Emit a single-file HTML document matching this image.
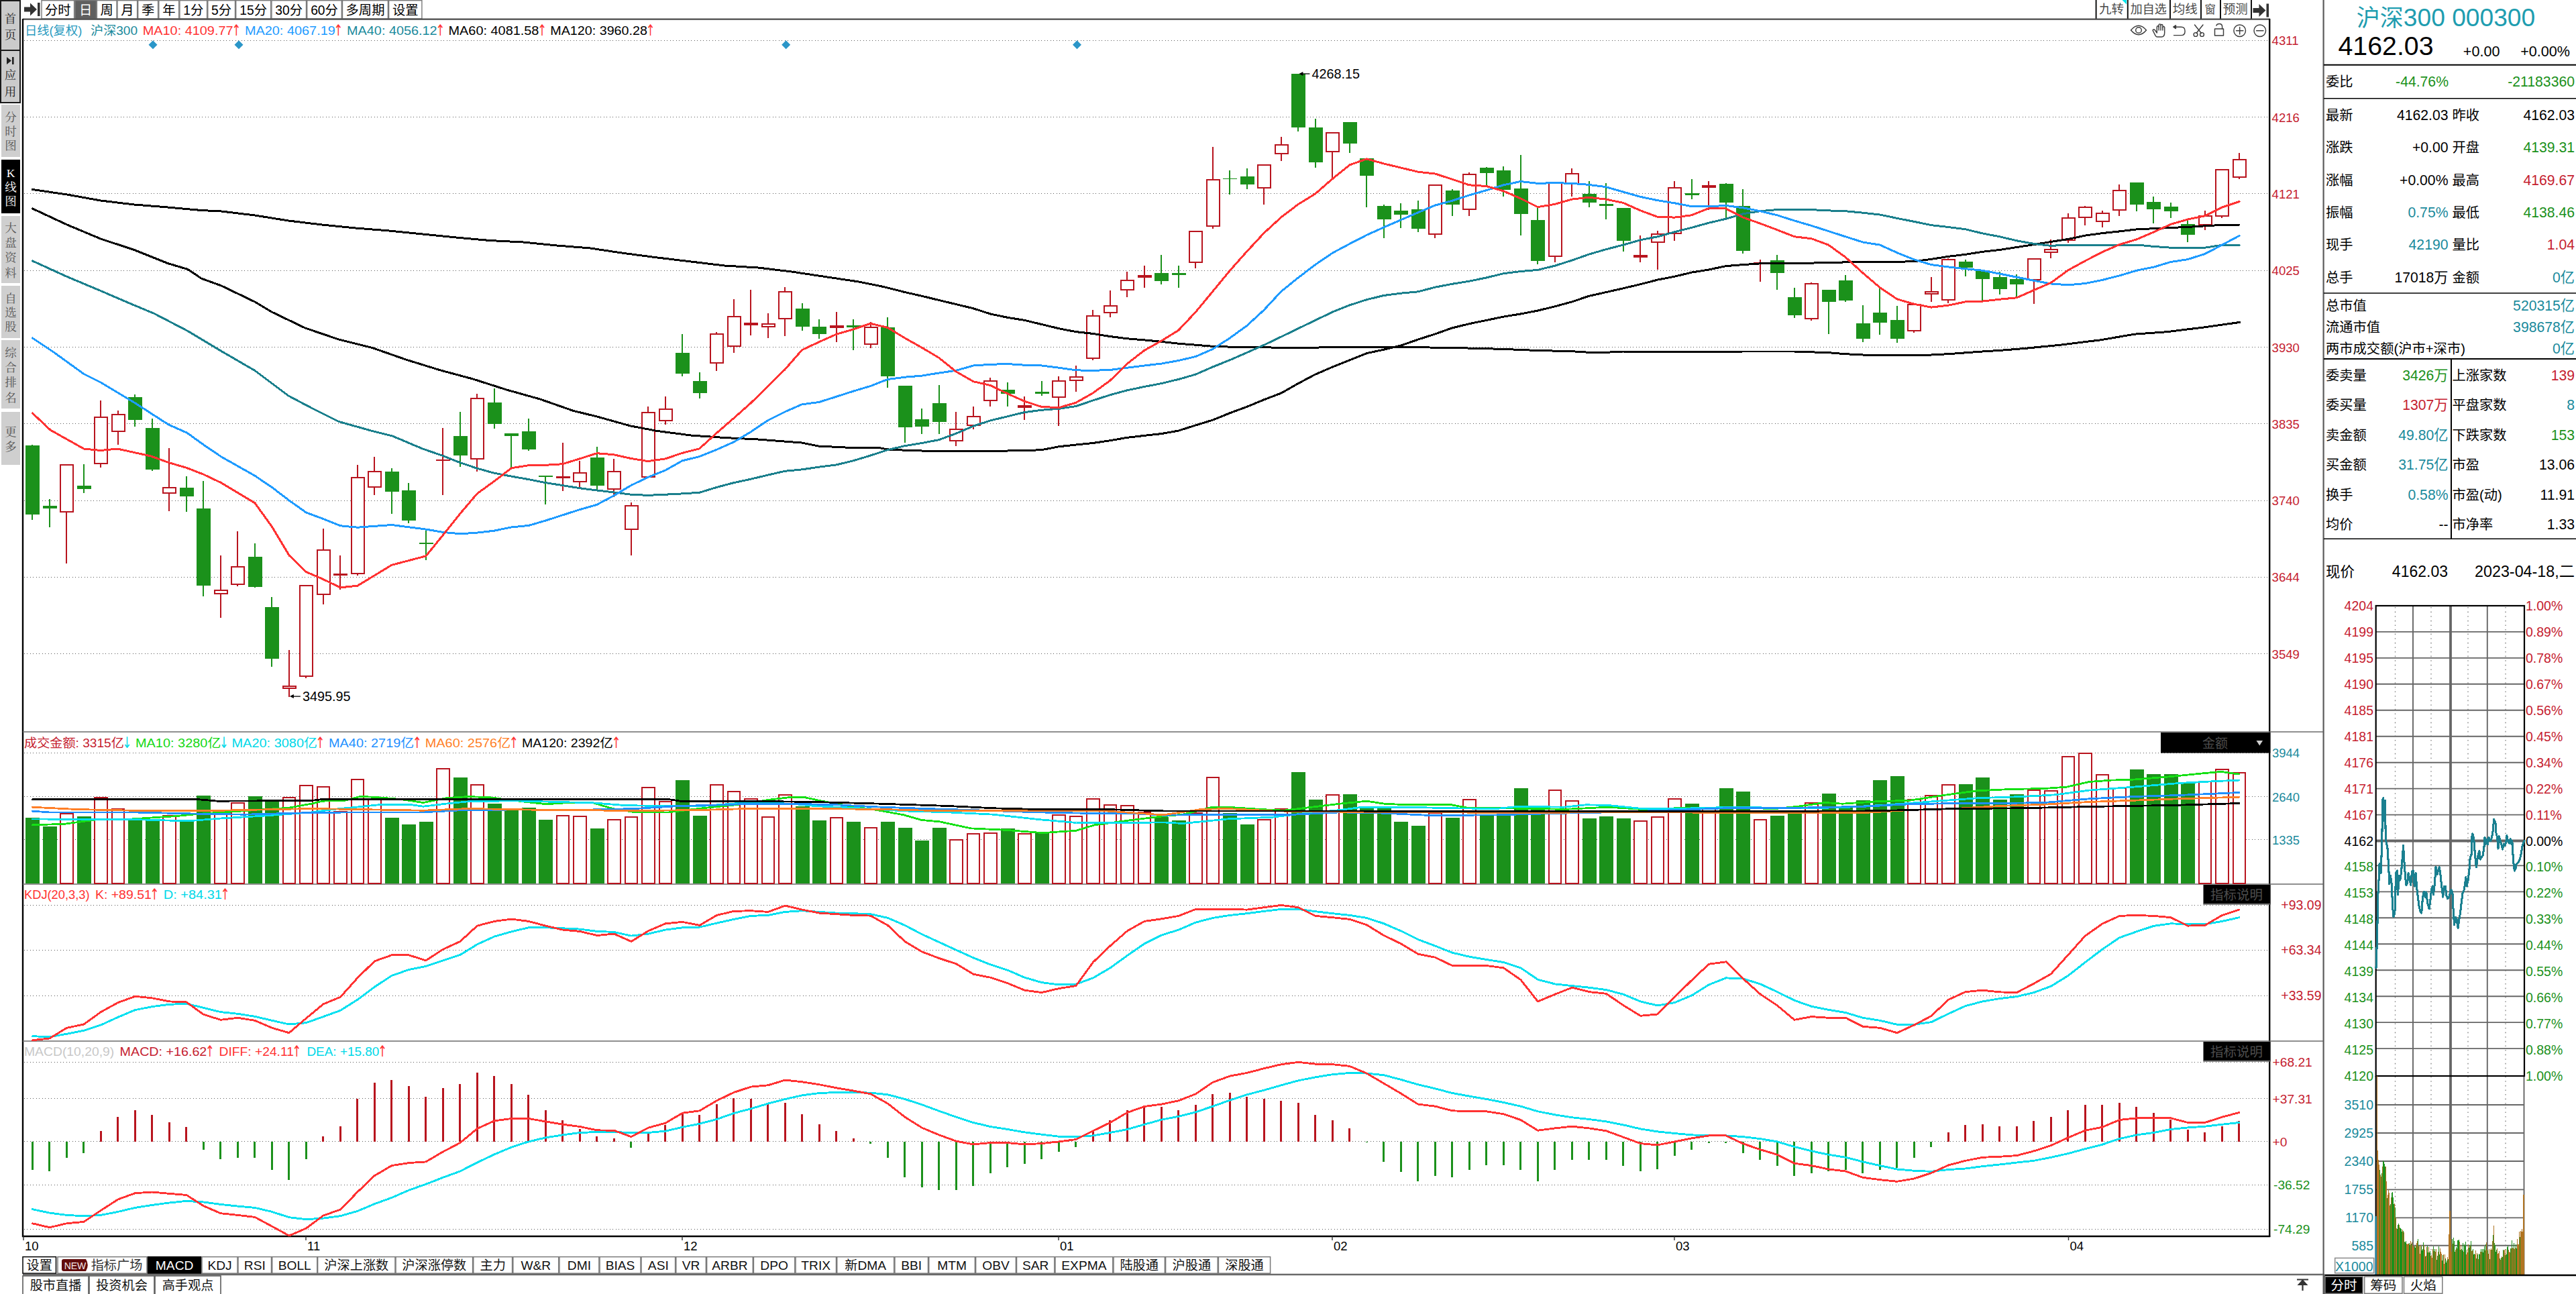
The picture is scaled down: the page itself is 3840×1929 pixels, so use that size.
<!DOCTYPE html><html><head><meta charset="utf-8"><title>沪深300</title><style>html,body{margin:0;padding:0;background:#fff}svg{display:block}text{font-family:"Liberation Sans","Noto Sans CJK SC",sans-serif;white-space:pre}</style></head><body>
<svg width="3840" height="1929" viewBox="0 0 3840 1929">
<rect width="3840" height="1929" fill="#fff"/>
<rect x="1" y="1" width="29" height="74" fill="#cbcbcb" stroke="#1a1a1a" stroke-width="2"/>
<text x="15.5" y="34.0" font-size="17.5" fill="#222" text-anchor="middle" style='font-family:"Liberation Serif","Noto Serif CJK SC",serif'>首</text>
<text x="15.5" y="57.6" font-size="17.5" fill="#222" text-anchor="middle" style='font-family:"Liberation Serif","Noto Serif CJK SC",serif'>页</text>
<rect x="1" y="75" width="29" height="78" fill="#cbcbcb" stroke="#1a1a1a" stroke-width="2"/>
<path d="M10,85 L17,90.5 L10,96 Z M18,85 h2.6 v11 h-2.6 Z" fill="#222"/>
<text x="15.5" y="117.5" font-size="17.5" fill="#222" text-anchor="middle" style='font-family:"Liberation Serif","Noto Serif CJK SC",serif'>应</text>
<text x="15.5" y="142.5" font-size="17.5" fill="#222" text-anchor="middle" style='font-family:"Liberation Serif","Noto Serif CJK SC",serif'>用</text>
<rect x="2" y="156" width="28" height="78" fill="#cfcfcf"/>
<text x="16.0" y="181.2" font-size="17.5" fill="#555" text-anchor="middle" style='font-family:"Liberation Serif","Noto Serif CJK SC",serif'>分</text>
<text x="16.0" y="202.2" font-size="17.5" fill="#555" text-anchor="middle" style='font-family:"Liberation Serif","Noto Serif CJK SC",serif'>时</text>
<text x="16.0" y="223.2" font-size="17.5" fill="#555" text-anchor="middle" style='font-family:"Liberation Serif","Noto Serif CJK SC",serif'>图</text>
<rect x="2" y="238" width="28" height="80" fill="#000"/>
<text x="16.0" y="264.2" font-size="17.5" fill="#fff" text-anchor="middle" style='font-family:"Liberation Serif","Noto Serif CJK SC",serif'>K</text>
<text x="16.0" y="285.2" font-size="17.5" fill="#fff" text-anchor="middle" style='font-family:"Liberation Serif","Noto Serif CJK SC",serif'>线</text>
<text x="16.0" y="306.2" font-size="17.5" fill="#fff" text-anchor="middle" style='font-family:"Liberation Serif","Noto Serif CJK SC",serif'>图</text>
<rect x="2" y="322" width="28" height="100" fill="#cfcfcf"/>
<text x="16.0" y="345.8" font-size="17.5" fill="#555" text-anchor="middle" style='font-family:"Liberation Serif","Noto Serif CJK SC",serif'>大</text>
<text x="16.0" y="368.1" font-size="17.5" fill="#555" text-anchor="middle" style='font-family:"Liberation Serif","Noto Serif CJK SC",serif'>盘</text>
<text x="16.0" y="390.4" font-size="17.5" fill="#555" text-anchor="middle" style='font-family:"Liberation Serif","Noto Serif CJK SC",serif'>资</text>
<text x="16.0" y="412.6" font-size="17.5" fill="#555" text-anchor="middle" style='font-family:"Liberation Serif","Noto Serif CJK SC",serif'>料</text>
<rect x="2" y="426" width="28" height="78" fill="#cfcfcf"/>
<text x="16.0" y="451.2" font-size="17.5" fill="#555" text-anchor="middle" style='font-family:"Liberation Serif","Noto Serif CJK SC",serif'>自</text>
<text x="16.0" y="472.2" font-size="17.5" fill="#555" text-anchor="middle" style='font-family:"Liberation Serif","Noto Serif CJK SC",serif'>选</text>
<text x="16.0" y="493.2" font-size="17.5" fill="#555" text-anchor="middle" style='font-family:"Liberation Serif","Noto Serif CJK SC",serif'>股</text>
<rect x="2" y="507" width="28" height="102" fill="#cfcfcf"/>
<text x="16.0" y="531.8" font-size="17.5" fill="#555" text-anchor="middle" style='font-family:"Liberation Serif","Noto Serif CJK SC",serif'>综</text>
<text x="16.0" y="554.0" font-size="17.5" fill="#555" text-anchor="middle" style='font-family:"Liberation Serif","Noto Serif CJK SC",serif'>合</text>
<text x="16.0" y="576.4" font-size="17.5" fill="#555" text-anchor="middle" style='font-family:"Liberation Serif","Noto Serif CJK SC",serif'>排</text>
<text x="16.0" y="598.6" font-size="17.5" fill="#555" text-anchor="middle" style='font-family:"Liberation Serif","Noto Serif CJK SC",serif'>名</text>
<rect x="2" y="614" width="28" height="79" fill="#cfcfcf"/>
<text x="16.0" y="650.0" font-size="17.5" fill="#555" text-anchor="middle" style='font-family:"Liberation Serif","Noto Serif CJK SC",serif'>更</text>
<text x="16.0" y="671.5" font-size="17.5" fill="#555" text-anchor="middle" style='font-family:"Liberation Serif","Noto Serif CJK SC",serif'>多</text>
<path d="M36,10.5 h9 v-6 l10,9.5 l-10,9.5 v-6 h-9 Z M56,4 h3.6 v20 h-3.6 Z" fill="#333"/>
<rect x="62.0" y="0.7" width="48.6" height="27.3" fill="#fff" stroke="#7a7a7a" stroke-width="1.4"/>
<text x="86.3" y="21.7" font-size="19.3" fill="#000" text-anchor="middle">分时</text>
<rect x="111.8" y="0.7" width="31.8" height="27.3" fill="#5f5f5f" stroke="#7a7a7a" stroke-width="1.4"/>
<text x="127.7" y="21.7" font-size="19.3" fill="#fff" text-anchor="middle">日</text>
<rect x="144.4" y="0.7" width="29.6" height="27.3" fill="#fff" stroke="#7a7a7a" stroke-width="1.4"/>
<text x="159.2" y="21.7" font-size="19.3" fill="#000" text-anchor="middle">周</text>
<rect x="175.0" y="0.7" width="29.6" height="27.3" fill="#fff" stroke="#7a7a7a" stroke-width="1.4"/>
<text x="189.8" y="21.7" font-size="19.3" fill="#000" text-anchor="middle">月</text>
<rect x="205.7" y="0.7" width="29.9" height="27.3" fill="#fff" stroke="#7a7a7a" stroke-width="1.4"/>
<text x="220.6" y="21.7" font-size="19.3" fill="#000" text-anchor="middle">季</text>
<rect x="236.8" y="0.7" width="29.9" height="27.3" fill="#fff" stroke="#7a7a7a" stroke-width="1.4"/>
<text x="251.8" y="21.7" font-size="19.3" fill="#000" text-anchor="middle">年</text>
<rect x="267.9" y="0.7" width="40.7" height="27.3" fill="#fff" stroke="#7a7a7a" stroke-width="1.4"/>
<text x="288.2" y="21.7" font-size="19.3" fill="#000" text-anchor="middle">1分</text>
<rect x="309.8" y="0.7" width="40.7" height="27.3" fill="#fff" stroke="#7a7a7a" stroke-width="1.4"/>
<text x="330.1" y="21.7" font-size="19.3" fill="#000" text-anchor="middle">5分</text>
<rect x="351.7" y="0.7" width="52.0" height="27.3" fill="#fff" stroke="#7a7a7a" stroke-width="1.4"/>
<text x="377.7" y="21.7" font-size="19.3" fill="#000" text-anchor="middle">15分</text>
<rect x="404.9" y="0.7" width="51.6" height="27.3" fill="#fff" stroke="#7a7a7a" stroke-width="1.4"/>
<text x="430.7" y="21.7" font-size="19.3" fill="#000" text-anchor="middle">30分</text>
<rect x="457.7" y="0.7" width="51.6" height="27.3" fill="#fff" stroke="#7a7a7a" stroke-width="1.4"/>
<text x="483.5" y="21.7" font-size="19.3" fill="#000" text-anchor="middle">60分</text>
<rect x="510.5" y="0.7" width="67.9" height="27.3" fill="#fff" stroke="#7a7a7a" stroke-width="1.4"/>
<text x="544.5" y="21.7" font-size="19.3" fill="#000" text-anchor="middle">多周期</text>
<rect x="579.6" y="0.7" width="49.3" height="27.3" fill="#fff" stroke="#7a7a7a" stroke-width="1.4"/>
<text x="604.2" y="21.7" font-size="19.3" fill="#000" text-anchor="middle">设置</text>
<line x1="3124.6" y1="0" x2="3124.6" y2="28" stroke="#111" stroke-width="2"/>
<text x="3147.5" y="20.3" font-size="18.5" fill="#4a4a4a" text-anchor="middle">九转</text>
<line x1="3171.8" y1="0" x2="3171.8" y2="28" stroke="#111" stroke-width="2"/>
<text x="3202.7" y="20.3" font-size="18" fill="#4a4a4a" text-anchor="middle">加自选</text>
<line x1="3235.0" y1="0" x2="3235.0" y2="28" stroke="#111" stroke-width="2"/>
<text x="3257.3" y="20.3" font-size="18.5" fill="#4a4a4a" text-anchor="middle">均线</text>
<line x1="3281.0" y1="0" x2="3281.0" y2="28" stroke="#111" stroke-width="2"/>
<text x="3294.8" y="20.3" font-size="16.5" fill="#4a4a4a" text-anchor="middle">窗</text>
<line x1="3310.0" y1="0" x2="3310.0" y2="28" stroke="#111" stroke-width="2"/>
<text x="3332.3" y="20.3" font-size="18.5" fill="#4a4a4a" text-anchor="middle">预测</text>
<line x1="3356" y1="0" x2="3356" y2="28" stroke="#111" stroke-width="2"/>
<path d="M3163.5,0 L3170,0 L3170,6.5 Z" fill="#00e5ee"/>
<path d="M3358.5,12.0 h9 v-6 l10,9.5 l-10,9.5 v-6 h-9 Z M3378.5,5.5 h3.6 v20 h-3.6 Z" fill="#333"/>
<line x1="34" y1="28.6" x2="3384" y2="28.6" stroke="#4a4a4a" stroke-width="2.2"/>
<line x1="34" y1="28" x2="34" y2="1844" stroke="#000" stroke-width="2.4"/>
<line x1="3383.2" y1="28" x2="3383.2" y2="1844" stroke="#000" stroke-width="2.4"/>
<line x1="3463.6" y1="0" x2="3463.6" y2="1929" stroke="#5a5a5a" stroke-width="2.2"/>
<line x1="34" y1="1091" x2="3463" y2="1091" stroke="#6a6a6a" stroke-width="1.6"/>
<line x1="34" y1="1318" x2="3463" y2="1318" stroke="#6a6a6a" stroke-width="1.6"/>
<line x1="34" y1="1552" x2="3463" y2="1552" stroke="#6a6a6a" stroke-width="1.6"/>
<line x1="33" y1="1843" x2="3384.2" y2="1843" stroke="#000" stroke-width="2.6"/>
<line x1="36" y1="60.5" x2="3382" y2="60.5" stroke="#5a5a5a" stroke-width="1" stroke-dasharray="1 3 1 4"/>
<text x="3386.6" y="67.3" font-size="18.6" fill="#c5212f">4311</text>
<line x1="36" y1="174.5" x2="3382" y2="174.5" stroke="#5a5a5a" stroke-width="1" stroke-dasharray="1 3 1 4"/>
<text x="3386.6" y="181.6" font-size="18.6" fill="#c5212f">4216</text>
<line x1="36" y1="288.5" x2="3382" y2="288.5" stroke="#5a5a5a" stroke-width="1" stroke-dasharray="1 3 1 4"/>
<text x="3386.6" y="295.9" font-size="18.6" fill="#c5212f">4121</text>
<line x1="36" y1="403.5" x2="3382" y2="403.5" stroke="#5a5a5a" stroke-width="1" stroke-dasharray="1 3 1 4"/>
<text x="3386.6" y="410.2" font-size="18.6" fill="#c5212f">4025</text>
<line x1="36" y1="517.5" x2="3382" y2="517.5" stroke="#5a5a5a" stroke-width="1" stroke-dasharray="1 3 1 4"/>
<text x="3386.6" y="524.5" font-size="18.6" fill="#c5212f">3930</text>
<line x1="36" y1="631.5" x2="3382" y2="631.5" stroke="#5a5a5a" stroke-width="1" stroke-dasharray="1 3 1 4"/>
<text x="3386.6" y="638.8" font-size="18.6" fill="#c5212f">3835</text>
<line x1="36" y1="746.5" x2="3382" y2="746.5" stroke="#5a5a5a" stroke-width="1" stroke-dasharray="1 3 1 4"/>
<text x="3386.6" y="753.1" font-size="18.6" fill="#c5212f">3740</text>
<line x1="36" y1="860.5" x2="3382" y2="860.5" stroke="#5a5a5a" stroke-width="1" stroke-dasharray="1 3 1 4"/>
<text x="3386.6" y="867.4" font-size="18.6" fill="#c5212f">3644</text>
<line x1="36" y1="974.5" x2="3382" y2="974.5" stroke="#5a5a5a" stroke-width="1" stroke-dasharray="1 3 1 4"/>
<text x="3386.6" y="981.7" font-size="18.6" fill="#c5212f">3549</text>
<text x="36.9" y="52" font-size="18.3" fill="#2b9bc0" textLength="85.4" lengthAdjust="spacingAndGlyphs">日线(复权)</text>
<text x="135.1" y="52" font-size="18.3" fill="#1a8a9c" textLength="69.9" lengthAdjust="spacingAndGlyphs">沪深300</text>
<text x="212.7" y="52" font-size="18.3" fill="#ff3232" textLength="134.9" lengthAdjust="spacingAndGlyphs">MA10: 4109.77</text>
<text x="352.1" y="53.5" font-size="23" fill="#ff3232" text-anchor="middle" style='font-family:"DejaVu Sans","Liberation Sans",sans-serif' transform="translate(352.1 0) scale(0.72 1) translate(-352.1 0)">↑</text>
<text x="364.9" y="52" font-size="18.3" fill="#1e9bff" textLength="134.9" lengthAdjust="spacingAndGlyphs">MA20: 4067.19</text>
<text x="504.2" y="53.5" font-size="23" fill="#ff3232" text-anchor="middle" style='font-family:"DejaVu Sans","Liberation Sans",sans-serif' transform="translate(504.2 0) scale(0.72 1) translate(-504.2 0)">↑</text>
<text x="517.1" y="52" font-size="18.3" fill="#1a8a9c" textLength="134.5" lengthAdjust="spacingAndGlyphs">MA40: 4056.12</text>
<text x="656.1" y="53.5" font-size="23" fill="#ff3232" text-anchor="middle" style='font-family:"DejaVu Sans","Liberation Sans",sans-serif' transform="translate(656.1 0) scale(0.72 1) translate(-656.1 0)">↑</text>
<text x="668.5" y="52" font-size="18.3" fill="#000" textLength="134.9" lengthAdjust="spacingAndGlyphs">MA60: 4081.58</text>
<text x="807.9" y="53.5" font-size="23" fill="#ff3232" text-anchor="middle" style='font-family:"DejaVu Sans","Liberation Sans",sans-serif' transform="translate(807.9 0) scale(0.72 1) translate(-807.9 0)">↑</text>
<text x="820.3" y="52" font-size="18.3" fill="#000" textLength="144.6" lengthAdjust="spacingAndGlyphs">MA120: 3960.28</text>
<text x="969.4" y="53.5" font-size="23" fill="#ff3232" text-anchor="middle" style='font-family:"DejaVu Sans","Liberation Sans",sans-serif' transform="translate(969.4 0) scale(0.72 1) translate(-969.4 0)">↑</text>
<path d="M221.5,66.8 l6.5,-6.5 l6.5,6.5 l-6.5,6.5 Z" fill="#2b96c8"/>
<path d="M349.5,66.8 l6.5,-6.5 l6.5,6.5 l-6.5,6.5 Z" fill="#2b96c8"/>
<path d="M1165.2,66.8 l6.5,-6.5 l6.5,6.5 l-6.5,6.5 Z" fill="#2b96c8"/>
<path d="M1599.0,66.8 l6.5,-6.5 l6.5,6.5 l-6.5,6.5 Z" fill="#2b96c8"/>
<g fill="none" stroke="#3c3c3c" stroke-width="1.45" stroke-linecap="round" stroke-linejoin="round">
<path d="M3176.5,45 Q3188,31.5 3199.5,45 Q3188,58.5 3176.5,45 Z"/><circle cx="3188" cy="45" r="4.3"/>
<path d="M3215.3,49 V40.2 a1.4,1.4 0 0 1 2.8,0 V37.3 a1.45,1.45 0 0 1 2.9,0 V37.9 a1.45,1.45 0 0 1 2.9,0 V41 a1.4,1.4 0 0 1 2.8,0 V48.7 q0,6.2 -4.5,6.2 H3215.8 q-1.6,0 -2.6,-1.6 L3209.4,46 q-0.8,-1.6 0.9,-2 q1.2,-0.2 2,0.8 Z"/>
<path d="M3218.1,40.2 V45 M3221,37.9 V45 M3223.9,41 V45"/>
<path d="M3242,40.2 h9.5 q5.6,0 5.6,6.2 q0,6.2 -5.6,6.2 h-11"/><path d="M3243.4,37.8 l-3.6,2.4 l3.6,2.4 Z" fill="#3c3c3c"/>
<path d="M3271.5,37 L3281.5,49.5 M3284,37 L3274,49.5"/><circle cx="3273" cy="51.5" r="2.9"/><circle cx="3282.5" cy="51.5" r="2.9"/>
<rect x="3301.5" y="43" width="13" height="10"/><path d="M3312.6,43 v-3.2 q0,-4.3 -4.3,-4.3 q-3.6,0 -4.4,2.6"/>
<circle cx="3338.7" cy="45.7" r="8.8"/><path d="M3333.5,45.7 h10.4 M3338.7,40.5 v10.4"/>
<circle cx="3368.8" cy="45.7" r="8.8"/><path d="M3363.6,45.7 h10.4"/>
</g>
<g shape-rendering="crispEdges">
<line x1="48.4" y1="662.9" x2="48.4" y2="774.7" stroke="#1b911b" stroke-width="2"/>
<rect x="38.0" y="664.1" width="21" height="103.2" fill="#1b911b"/>
<line x1="73.9" y1="744.0" x2="73.9" y2="785.8" stroke="#1b911b" stroke-width="2"/>
<rect x="63.5" y="754.3" width="21" height="4.1" fill="#1b911b"/>
<line x1="99.4" y1="764.1" x2="99.4" y2="839.5" stroke="#b8141e" stroke-width="2"/>
<rect x="90.0" y="692.6" width="19" height="70.5" fill="#fff" stroke="#b8141e" stroke-width="2"/>
<line x1="124.9" y1="692.4" x2="124.9" y2="735.0" stroke="#1b911b" stroke-width="2"/>
<rect x="114.5" y="724.4" width="21" height="4.5" fill="#1b911b"/>
<line x1="150.4" y1="597.4" x2="150.4" y2="620.7" stroke="#b8141e" stroke-width="2"/>
<line x1="150.4" y1="692.0" x2="150.4" y2="696.5" stroke="#b8141e" stroke-width="2"/>
<rect x="141.0" y="621.7" width="19" height="69.3" fill="#fff" stroke="#b8141e" stroke-width="2"/>
<line x1="175.9" y1="612.1" x2="175.9" y2="616.6" stroke="#b8141e" stroke-width="2"/>
<line x1="175.9" y1="643.6" x2="175.9" y2="662.5" stroke="#b8141e" stroke-width="2"/>
<rect x="166.5" y="617.6" width="19" height="25.0" fill="#fff" stroke="#b8141e" stroke-width="2"/>
<line x1="201.4" y1="588.3" x2="201.4" y2="635.5" stroke="#1b911b" stroke-width="2"/>
<rect x="191.0" y="592.0" width="21" height="34.4" fill="#1b911b"/>
<line x1="226.9" y1="624.4" x2="226.9" y2="701.8" stroke="#1b911b" stroke-width="2"/>
<rect x="216.5" y="638.3" width="21" height="61.9" fill="#1b911b"/>
<line x1="252.4" y1="668.2" x2="252.4" y2="726.0" stroke="#b8141e" stroke-width="2"/>
<line x1="252.4" y1="736.2" x2="252.4" y2="761.6" stroke="#b8141e" stroke-width="2"/>
<rect x="243.0" y="727.0" width="19" height="8.2" fill="#fff" stroke="#b8141e" stroke-width="2"/>
<line x1="277.9" y1="710.4" x2="277.9" y2="762.9" stroke="#1b911b" stroke-width="2"/>
<rect x="267.5" y="727.2" width="21" height="13.1" fill="#1b911b"/>
<line x1="303.4" y1="717.4" x2="303.4" y2="888.6" stroke="#1b911b" stroke-width="2"/>
<rect x="293.0" y="758.4" width="21" height="114.3" fill="#1b911b"/>
<line x1="328.9" y1="828.0" x2="328.9" y2="878.8" stroke="#b8141e" stroke-width="2"/>
<line x1="328.9" y1="886.2" x2="328.9" y2="920.6" stroke="#b8141e" stroke-width="2"/>
<rect x="319.5" y="879.8" width="19" height="5.4" fill="#fff" stroke="#b8141e" stroke-width="2"/>
<line x1="354.4" y1="792.0" x2="354.4" y2="844.4" stroke="#b8141e" stroke-width="2"/>
<line x1="354.4" y1="871.8" x2="354.4" y2="873.5" stroke="#b8141e" stroke-width="2"/>
<rect x="345.0" y="845.4" width="19" height="25.4" fill="#fff" stroke="#b8141e" stroke-width="2"/>
<line x1="379.9" y1="810.0" x2="379.9" y2="875.9" stroke="#1b911b" stroke-width="2"/>
<rect x="369.5" y="830.1" width="21" height="44.7" fill="#1b911b"/>
<line x1="405.4" y1="890.3" x2="405.4" y2="993.5" stroke="#1b911b" stroke-width="2"/>
<rect x="395.0" y="905.0" width="21" height="77.4" fill="#1b911b"/>
<line x1="430.9" y1="969.3" x2="430.9" y2="1021.8" stroke="#b8141e" stroke-width="2"/>
<line x1="430.9" y1="1027.1" x2="430.9" y2="1038.6" stroke="#b8141e" stroke-width="2"/>
<rect x="421.5" y="1022.8" width="19" height="3.3" fill="#fff" stroke="#b8141e" stroke-width="2"/>
<line x1="456.4" y1="1009.1" x2="456.4" y2="1011.1" stroke="#b8141e" stroke-width="2"/>
<rect x="447.0" y="872.8" width="19" height="135.2" fill="#fff" stroke="#b8141e" stroke-width="2"/>
<line x1="481.9" y1="787.9" x2="481.9" y2="819.0" stroke="#b8141e" stroke-width="2"/>
<line x1="481.9" y1="887.0" x2="481.9" y2="900.9" stroke="#b8141e" stroke-width="2"/>
<rect x="472.5" y="820.0" width="19" height="66.0" fill="#fff" stroke="#b8141e" stroke-width="2"/>
<line x1="507.4" y1="828.0" x2="507.4" y2="879.2" stroke="#b8141e" stroke-width="2"/>
<rect x="497.0" y="854.6" width="21" height="3.2" fill="#b8141e"/>
<line x1="532.9" y1="693.2" x2="532.9" y2="710.8" stroke="#b8141e" stroke-width="2"/>
<line x1="532.9" y1="855.9" x2="532.9" y2="857.5" stroke="#b8141e" stroke-width="2"/>
<rect x="523.5" y="711.8" width="19" height="143.0" fill="#fff" stroke="#b8141e" stroke-width="2"/>
<line x1="558.4" y1="681.3" x2="558.4" y2="701.8" stroke="#b8141e" stroke-width="2"/>
<line x1="558.4" y1="726.8" x2="558.4" y2="737.5" stroke="#b8141e" stroke-width="2"/>
<rect x="549.0" y="702.8" width="19" height="23.0" fill="#fff" stroke="#b8141e" stroke-width="2"/>
<line x1="583.9" y1="697.7" x2="583.9" y2="765.7" stroke="#1b911b" stroke-width="2"/>
<rect x="573.5" y="703.1" width="21" height="30.3" fill="#1b911b"/>
<line x1="609.4" y1="719.9" x2="609.4" y2="779.7" stroke="#1b911b" stroke-width="2"/>
<rect x="599.0" y="730.9" width="21" height="44.7" fill="#1b911b"/>
<line x1="634.9" y1="789.9" x2="634.9" y2="835.0" stroke="#1b911b" stroke-width="2"/>
<rect x="624.5" y="809.2" width="21" height="1.6" fill="#1b911b"/>
<line x1="660.4" y1="638.3" x2="660.4" y2="737.9" stroke="#b8141e" stroke-width="2"/>
<rect x="650.0" y="684.6" width="21" height="2.3" fill="#b8141e"/>
<line x1="685.9" y1="613.9" x2="685.9" y2="695.8" stroke="#1b911b" stroke-width="2"/>
<rect x="675.5" y="649.9" width="21" height="29.5" fill="#1b911b"/>
<line x1="711.4" y1="587.2" x2="711.4" y2="592.6" stroke="#b8141e" stroke-width="2"/>
<line x1="711.4" y1="684.7" x2="711.4" y2="703.2" stroke="#b8141e" stroke-width="2"/>
<rect x="702.0" y="593.6" width="19" height="90.2" fill="#fff" stroke="#b8141e" stroke-width="2"/>
<line x1="736.9" y1="579.0" x2="736.9" y2="638.8" stroke="#1b911b" stroke-width="2"/>
<rect x="726.5" y="599.5" width="21" height="32.0" fill="#1b911b"/>
<line x1="762.4" y1="645.8" x2="762.4" y2="699.1" stroke="#1b911b" stroke-width="2"/>
<rect x="752.0" y="645.8" width="21" height="3.7" fill="#1b911b"/>
<line x1="787.9" y1="624.1" x2="787.9" y2="672.0" stroke="#1b911b" stroke-width="2"/>
<rect x="777.5" y="643.4" width="21" height="27.0" fill="#1b911b"/>
<line x1="813.4" y1="708.5" x2="813.4" y2="752.3" stroke="#1b911b" stroke-width="2"/>
<rect x="803.0" y="708.9" width="21" height="1.6" fill="#1b911b"/>
<line x1="838.9" y1="659.7" x2="838.9" y2="731.8" stroke="#b8141e" stroke-width="2"/>
<rect x="828.5" y="709.7" width="21" height="3.6" fill="#b8141e"/>
<line x1="864.4" y1="686.8" x2="864.4" y2="704.0" stroke="#b8141e" stroke-width="2"/>
<line x1="864.4" y1="718.7" x2="864.4" y2="726.5" stroke="#b8141e" stroke-width="2"/>
<rect x="855.0" y="705.0" width="19" height="12.7" fill="#fff" stroke="#b8141e" stroke-width="2"/>
<line x1="889.9" y1="666.3" x2="889.9" y2="730.2" stroke="#1b911b" stroke-width="2"/>
<rect x="879.5" y="682.3" width="21" height="41.8" fill="#1b911b"/>
<line x1="915.4" y1="683.9" x2="915.4" y2="701.9" stroke="#b8141e" stroke-width="2"/>
<line x1="915.4" y1="729.8" x2="915.4" y2="740.9" stroke="#b8141e" stroke-width="2"/>
<rect x="906.0" y="702.9" width="19" height="25.9" fill="#fff" stroke="#b8141e" stroke-width="2"/>
<line x1="940.9" y1="749.1" x2="940.9" y2="752.7" stroke="#b8141e" stroke-width="2"/>
<line x1="940.9" y1="790.0" x2="940.9" y2="827.7" stroke="#b8141e" stroke-width="2"/>
<rect x="931.5" y="753.7" width="19" height="35.3" fill="#fff" stroke="#b8141e" stroke-width="2"/>
<line x1="966.4" y1="606.1" x2="966.4" y2="613.9" stroke="#b8141e" stroke-width="2"/>
<line x1="966.4" y1="712.2" x2="966.4" y2="713.4" stroke="#b8141e" stroke-width="2"/>
<rect x="957.0" y="614.9" width="19" height="96.3" fill="#fff" stroke="#b8141e" stroke-width="2"/>
<line x1="991.9" y1="590.9" x2="991.9" y2="608.9" stroke="#b8141e" stroke-width="2"/>
<line x1="991.9" y1="628.2" x2="991.9" y2="632.7" stroke="#b8141e" stroke-width="2"/>
<rect x="982.5" y="609.9" width="19" height="17.3" fill="#fff" stroke="#b8141e" stroke-width="2"/>
<line x1="1017.4" y1="497.9" x2="1017.4" y2="560.6" stroke="#1b911b" stroke-width="2"/>
<rect x="1007.0" y="526.2" width="21" height="31.1" fill="#1b911b"/>
<line x1="1042.9" y1="555.3" x2="1042.9" y2="593.8" stroke="#1b911b" stroke-width="2"/>
<rect x="1032.5" y="568.0" width="21" height="18.4" fill="#1b911b"/>
<line x1="1068.4" y1="495.0" x2="1068.4" y2="496.7" stroke="#b8141e" stroke-width="2"/>
<line x1="1068.4" y1="542.2" x2="1068.4" y2="552.8" stroke="#b8141e" stroke-width="2"/>
<rect x="1059.0" y="497.7" width="19" height="43.5" fill="#fff" stroke="#b8141e" stroke-width="2"/>
<line x1="1093.9" y1="446.3" x2="1093.9" y2="470.9" stroke="#b8141e" stroke-width="2"/>
<line x1="1093.9" y1="516.8" x2="1093.9" y2="525.8" stroke="#b8141e" stroke-width="2"/>
<rect x="1084.5" y="471.9" width="19" height="43.9" fill="#fff" stroke="#b8141e" stroke-width="2"/>
<line x1="1119.4" y1="432.0" x2="1119.4" y2="500.4" stroke="#b8141e" stroke-width="2"/>
<rect x="1109.0" y="481.1" width="21" height="4.0" fill="#b8141e"/>
<line x1="1144.9" y1="467.2" x2="1144.9" y2="481.9" stroke="#b8141e" stroke-width="2"/>
<line x1="1144.9" y1="487.7" x2="1144.9" y2="503.6" stroke="#b8141e" stroke-width="2"/>
<rect x="1135.5" y="482.9" width="19" height="3.7" fill="#fff" stroke="#b8141e" stroke-width="2"/>
<line x1="1170.4" y1="428.3" x2="1170.4" y2="433.6" stroke="#b8141e" stroke-width="2"/>
<line x1="1170.4" y1="475.8" x2="1170.4" y2="500.8" stroke="#b8141e" stroke-width="2"/>
<rect x="1161.0" y="434.6" width="19" height="40.2" fill="#fff" stroke="#b8141e" stroke-width="2"/>
<line x1="1195.9" y1="452.0" x2="1195.9" y2="492.6" stroke="#1b911b" stroke-width="2"/>
<rect x="1185.5" y="460.2" width="21" height="27.0" fill="#1b911b"/>
<line x1="1221.4" y1="475.8" x2="1221.4" y2="504.5" stroke="#1b911b" stroke-width="2"/>
<rect x="1211.0" y="486.9" width="21" height="10.7" fill="#1b911b"/>
<line x1="1246.9" y1="464.7" x2="1246.9" y2="509.8" stroke="#b8141e" stroke-width="2"/>
<rect x="1236.5" y="485.2" width="21" height="3.6" fill="#b8141e"/>
<line x1="1272.4" y1="475.8" x2="1272.4" y2="521.7" stroke="#1b911b" stroke-width="2"/>
<rect x="1262.0" y="485.2" width="21" height="2.9" fill="#1b911b"/>
<line x1="1297.9" y1="480.3" x2="1297.9" y2="486.9" stroke="#b8141e" stroke-width="2"/>
<line x1="1297.9" y1="513.9" x2="1297.9" y2="518.8" stroke="#b8141e" stroke-width="2"/>
<rect x="1288.5" y="487.9" width="19" height="25.0" fill="#fff" stroke="#b8141e" stroke-width="2"/>
<line x1="1323.4" y1="473.3" x2="1323.4" y2="577.7" stroke="#1b911b" stroke-width="2"/>
<rect x="1313.0" y="488.4" width="21" height="72.1" fill="#1b911b"/>
<line x1="1348.9" y1="574.5" x2="1348.9" y2="659.7" stroke="#1b911b" stroke-width="2"/>
<rect x="1338.5" y="574.5" width="21" height="62.7" fill="#1b911b"/>
<line x1="1374.4" y1="608.5" x2="1374.4" y2="647.4" stroke="#1b911b" stroke-width="2"/>
<rect x="1364.0" y="625.3" width="21" height="10.2" fill="#1b911b"/>
<line x1="1399.9" y1="573.6" x2="1399.9" y2="647.4" stroke="#1b911b" stroke-width="2"/>
<rect x="1389.5" y="601.1" width="21" height="27.4" fill="#1b911b"/>
<line x1="1425.4" y1="614.2" x2="1425.4" y2="639.2" stroke="#b8141e" stroke-width="2"/>
<line x1="1425.4" y1="658.0" x2="1425.4" y2="665.4" stroke="#b8141e" stroke-width="2"/>
<rect x="1416.0" y="640.2" width="19" height="16.8" fill="#fff" stroke="#b8141e" stroke-width="2"/>
<line x1="1450.9" y1="605.6" x2="1450.9" y2="619.9" stroke="#b8141e" stroke-width="2"/>
<line x1="1450.9" y1="635.1" x2="1450.9" y2="640.0" stroke="#b8141e" stroke-width="2"/>
<rect x="1441.5" y="620.9" width="19" height="13.2" fill="#fff" stroke="#b8141e" stroke-width="2"/>
<line x1="1476.4" y1="563.4" x2="1476.4" y2="566.7" stroke="#b8141e" stroke-width="2"/>
<line x1="1476.4" y1="598.2" x2="1476.4" y2="605.6" stroke="#b8141e" stroke-width="2"/>
<rect x="1467.0" y="567.7" width="19" height="29.5" fill="#fff" stroke="#b8141e" stroke-width="2"/>
<line x1="1501.9" y1="570.4" x2="1501.9" y2="606.4" stroke="#1b911b" stroke-width="2"/>
<rect x="1491.5" y="581.4" width="21" height="5.3" fill="#1b911b"/>
<line x1="1527.4" y1="591.3" x2="1527.4" y2="626.1" stroke="#b8141e" stroke-width="2"/>
<rect x="1517.0" y="604.4" width="21" height="3.6" fill="#b8141e"/>
<line x1="1552.9" y1="567.5" x2="1552.9" y2="590.0" stroke="#1b911b" stroke-width="2"/>
<rect x="1542.5" y="583.5" width="21" height="3.3" fill="#1b911b"/>
<line x1="1578.4" y1="560.5" x2="1578.4" y2="566.7" stroke="#b8141e" stroke-width="2"/>
<line x1="1578.4" y1="592.9" x2="1578.4" y2="635.1" stroke="#b8141e" stroke-width="2"/>
<rect x="1569.0" y="567.7" width="19" height="24.2" fill="#fff" stroke="#b8141e" stroke-width="2"/>
<line x1="1603.9" y1="545.0" x2="1603.9" y2="560.9" stroke="#b8141e" stroke-width="2"/>
<line x1="1603.9" y1="568.3" x2="1603.9" y2="584.3" stroke="#b8141e" stroke-width="2"/>
<rect x="1594.5" y="561.9" width="19" height="5.4" fill="#fff" stroke="#b8141e" stroke-width="2"/>
<line x1="1629.4" y1="462.2" x2="1629.4" y2="470.0" stroke="#b8141e" stroke-width="2"/>
<line x1="1629.4" y1="535.1" x2="1629.4" y2="537.2" stroke="#b8141e" stroke-width="2"/>
<rect x="1620.0" y="471.0" width="19" height="63.1" fill="#fff" stroke="#b8141e" stroke-width="2"/>
<line x1="1654.9" y1="432.7" x2="1654.9" y2="454.8" stroke="#b8141e" stroke-width="2"/>
<line x1="1654.9" y1="466.7" x2="1654.9" y2="473.3" stroke="#b8141e" stroke-width="2"/>
<rect x="1645.5" y="455.8" width="19" height="9.9" fill="#fff" stroke="#b8141e" stroke-width="2"/>
<line x1="1680.4" y1="404.9" x2="1680.4" y2="416.7" stroke="#b8141e" stroke-width="2"/>
<line x1="1680.4" y1="432.7" x2="1680.4" y2="443.4" stroke="#b8141e" stroke-width="2"/>
<rect x="1671.0" y="417.7" width="19" height="14.0" fill="#fff" stroke="#b8141e" stroke-width="2"/>
<line x1="1705.9" y1="396.3" x2="1705.9" y2="429.4" stroke="#b8141e" stroke-width="2"/>
<rect x="1695.5" y="410.2" width="21" height="4.0" fill="#b8141e"/>
<line x1="1731.4" y1="380.3" x2="1731.4" y2="423.7" stroke="#1b911b" stroke-width="2"/>
<rect x="1721.0" y="407.3" width="21" height="11.9" fill="#1b911b"/>
<line x1="1756.9" y1="396.3" x2="1756.9" y2="428.6" stroke="#1b911b" stroke-width="2"/>
<rect x="1746.5" y="406.5" width="21" height="3.7" fill="#1b911b"/>
<line x1="1782.4" y1="391.8" x2="1782.4" y2="399.5" stroke="#b8141e" stroke-width="2"/>
<rect x="1773.0" y="344.8" width="19" height="45.9" fill="#fff" stroke="#b8141e" stroke-width="2"/>
<line x1="1807.9" y1="218.9" x2="1807.9" y2="266.8" stroke="#b8141e" stroke-width="2"/>
<line x1="1807.9" y1="337.7" x2="1807.9" y2="341.4" stroke="#b8141e" stroke-width="2"/>
<rect x="1798.5" y="267.8" width="19" height="68.9" fill="#fff" stroke="#b8141e" stroke-width="2"/>
<line x1="1833.4" y1="254.1" x2="1833.4" y2="290.2" stroke="#1b911b" stroke-width="2"/>
<rect x="1823.0" y="265.6" width="21" height="1.6" fill="#1b911b"/>
<line x1="1858.9" y1="251.2" x2="1858.9" y2="281.6" stroke="#1b911b" stroke-width="2"/>
<rect x="1848.5" y="263.1" width="21" height="12.3" fill="#1b911b"/>
<line x1="1884.4" y1="280.7" x2="1884.4" y2="305.3" stroke="#b8141e" stroke-width="2"/>
<rect x="1875.0" y="245.7" width="19" height="34.1" fill="#fff" stroke="#b8141e" stroke-width="2"/>
<line x1="1909.9" y1="204.1" x2="1909.9" y2="214.8" stroke="#b8141e" stroke-width="2"/>
<line x1="1909.9" y1="229.9" x2="1909.9" y2="239.8" stroke="#b8141e" stroke-width="2"/>
<rect x="1900.5" y="215.8" width="19" height="13.2" fill="#fff" stroke="#b8141e" stroke-width="2"/>
<line x1="1935.4" y1="109.5" x2="1935.4" y2="195.5" stroke="#1b911b" stroke-width="2"/>
<rect x="1925.0" y="109.5" width="21" height="80.7" fill="#1b911b"/>
<line x1="1960.9" y1="177.1" x2="1960.9" y2="249.6" stroke="#1b911b" stroke-width="2"/>
<rect x="1950.5" y="190.2" width="21" height="52.0" fill="#1b911b"/>
<line x1="1986.4" y1="226.7" x2="1986.4" y2="265.2" stroke="#b8141e" stroke-width="2"/>
<rect x="1977.0" y="197.8" width="19" height="27.9" fill="#fff" stroke="#b8141e" stroke-width="2"/>
<line x1="2011.9" y1="182.0" x2="2011.9" y2="227.9" stroke="#1b911b" stroke-width="2"/>
<rect x="2001.5" y="182.0" width="21" height="32.4" fill="#1b911b"/>
<line x1="2037.4" y1="236.1" x2="2037.4" y2="308.6" stroke="#1b911b" stroke-width="2"/>
<rect x="2027.0" y="236.1" width="21" height="26.2" fill="#1b911b"/>
<line x1="2062.9" y1="304.5" x2="2062.9" y2="354.9" stroke="#1b911b" stroke-width="2"/>
<rect x="2052.5" y="307.4" width="21" height="19.3" fill="#1b911b"/>
<line x1="2088.4" y1="303.3" x2="2088.4" y2="339.7" stroke="#1b911b" stroke-width="2"/>
<rect x="2078.0" y="313.5" width="21" height="6.1" fill="#1b911b"/>
<line x1="2113.9" y1="299.2" x2="2113.9" y2="345.5" stroke="#1b911b" stroke-width="2"/>
<rect x="2103.5" y="311.5" width="21" height="29.1" fill="#1b911b"/>
<line x1="2139.4" y1="350.0" x2="2139.4" y2="354.5" stroke="#b8141e" stroke-width="2"/>
<rect x="2130.0" y="275.6" width="19" height="73.4" fill="#fff" stroke="#b8141e" stroke-width="2"/>
<line x1="2164.9" y1="282.0" x2="2164.9" y2="321.7" stroke="#1b911b" stroke-width="2"/>
<rect x="2154.5" y="283.6" width="21" height="20.9" fill="#1b911b"/>
<line x1="2190.4" y1="257.0" x2="2190.4" y2="259.4" stroke="#b8141e" stroke-width="2"/>
<line x1="2190.4" y1="313.1" x2="2190.4" y2="321.7" stroke="#b8141e" stroke-width="2"/>
<rect x="2181.0" y="260.4" width="19" height="51.7" fill="#fff" stroke="#b8141e" stroke-width="2"/>
<line x1="2215.9" y1="248.8" x2="2215.9" y2="276.6" stroke="#1b911b" stroke-width="2"/>
<rect x="2205.5" y="250.4" width="21" height="7.4" fill="#1b911b"/>
<line x1="2241.4" y1="247.6" x2="2241.4" y2="293.4" stroke="#1b911b" stroke-width="2"/>
<rect x="2231.0" y="254.1" width="21" height="29.1" fill="#1b911b"/>
<line x1="2266.9" y1="231.2" x2="2266.9" y2="350.8" stroke="#1b911b" stroke-width="2"/>
<rect x="2256.5" y="281.2" width="21" height="38.1" fill="#1b911b"/>
<line x1="2292.4" y1="307.8" x2="2292.4" y2="393.8" stroke="#1b911b" stroke-width="2"/>
<rect x="2282.0" y="327.9" width="21" height="61.5" fill="#1b911b"/>
<line x1="2317.9" y1="270.5" x2="2317.9" y2="271.3" stroke="#b8141e" stroke-width="2"/>
<line x1="2317.9" y1="383.2" x2="2317.9" y2="390.9" stroke="#b8141e" stroke-width="2"/>
<rect x="2308.5" y="272.3" width="19" height="109.8" fill="#fff" stroke="#b8141e" stroke-width="2"/>
<line x1="2343.4" y1="251.2" x2="2343.4" y2="257.8" stroke="#b8141e" stroke-width="2"/>
<line x1="2343.4" y1="275.4" x2="2343.4" y2="293.0" stroke="#b8141e" stroke-width="2"/>
<rect x="2334.0" y="258.8" width="19" height="15.6" fill="#fff" stroke="#b8141e" stroke-width="2"/>
<line x1="2368.9" y1="270.1" x2="2368.9" y2="309.4" stroke="#1b911b" stroke-width="2"/>
<rect x="2358.5" y="288.9" width="21" height="13.5" fill="#1b911b"/>
<line x1="2394.4" y1="273.0" x2="2394.4" y2="326.6" stroke="#1b911b" stroke-width="2"/>
<rect x="2384.0" y="304.1" width="21" height="3.3" fill="#1b911b"/>
<line x1="2419.9" y1="309.8" x2="2419.9" y2="374.5" stroke="#1b911b" stroke-width="2"/>
<rect x="2409.5" y="310.2" width="21" height="48.3" fill="#1b911b"/>
<line x1="2445.4" y1="351.2" x2="2445.4" y2="379.8" stroke="#b8141e" stroke-width="2"/>
<line x1="2445.4" y1="383.5" x2="2445.4" y2="390.5" stroke="#b8141e" stroke-width="2"/>
<rect x="2436.0" y="380.8" width="19" height="1.7" fill="#fff" stroke="#b8141e" stroke-width="2"/>
<line x1="2470.9" y1="344.2" x2="2470.9" y2="347.9" stroke="#b8141e" stroke-width="2"/>
<line x1="2470.9" y1="361.8" x2="2470.9" y2="401.5" stroke="#b8141e" stroke-width="2"/>
<rect x="2461.5" y="348.9" width="19" height="11.9" fill="#fff" stroke="#b8141e" stroke-width="2"/>
<line x1="2496.4" y1="270.4" x2="2496.4" y2="278.6" stroke="#b8141e" stroke-width="2"/>
<line x1="2496.4" y1="349.1" x2="2496.4" y2="359.3" stroke="#b8141e" stroke-width="2"/>
<rect x="2487.0" y="279.6" width="19" height="68.5" fill="#fff" stroke="#b8141e" stroke-width="2"/>
<line x1="2521.9" y1="267.2" x2="2521.9" y2="296.7" stroke="#1b911b" stroke-width="2"/>
<rect x="2511.5" y="287.7" width="21" height="2.9" fill="#1b911b"/>
<line x1="2547.4" y1="270.4" x2="2547.4" y2="275.8" stroke="#b8141e" stroke-width="2"/>
<line x1="2547.4" y1="280.3" x2="2547.4" y2="312.6" stroke="#b8141e" stroke-width="2"/>
<rect x="2538.0" y="276.8" width="19" height="2.5" fill="#fff" stroke="#b8141e" stroke-width="2"/>
<line x1="2572.9" y1="272.9" x2="2572.9" y2="327.0" stroke="#1b911b" stroke-width="2"/>
<rect x="2562.5" y="274.1" width="21" height="27.4" fill="#1b911b"/>
<line x1="2598.4" y1="281.9" x2="2598.4" y2="377.8" stroke="#1b911b" stroke-width="2"/>
<rect x="2588.0" y="307.3" width="21" height="66.4" fill="#1b911b"/>
<line x1="2623.9" y1="386.8" x2="2623.9" y2="419.6" stroke="#b8141e" stroke-width="2"/>
<rect x="2613.5" y="391.3" width="21" height="2.3" fill="#b8141e"/>
<line x1="2649.4" y1="380.2" x2="2649.4" y2="431.5" stroke="#1b911b" stroke-width="2"/>
<rect x="2639.0" y="388.4" width="21" height="18.8" fill="#1b911b"/>
<line x1="2674.9" y1="428.6" x2="2674.9" y2="473.6" stroke="#1b911b" stroke-width="2"/>
<rect x="2664.5" y="442.5" width="21" height="27.9" fill="#1b911b"/>
<line x1="2700.4" y1="421.2" x2="2700.4" y2="421.6" stroke="#b8141e" stroke-width="2"/>
<line x1="2700.4" y1="476.1" x2="2700.4" y2="477.7" stroke="#b8141e" stroke-width="2"/>
<rect x="2691.0" y="422.6" width="19" height="52.5" fill="#fff" stroke="#b8141e" stroke-width="2"/>
<line x1="2725.9" y1="431.5" x2="2725.9" y2="497.8" stroke="#1b911b" stroke-width="2"/>
<rect x="2715.5" y="431.5" width="21" height="18.0" fill="#1b911b"/>
<line x1="2751.4" y1="410.1" x2="2751.4" y2="449.5" stroke="#1b911b" stroke-width="2"/>
<rect x="2741.0" y="418.3" width="21" height="29.9" fill="#1b911b"/>
<line x1="2776.9" y1="455.2" x2="2776.9" y2="509.7" stroke="#1b911b" stroke-width="2"/>
<rect x="2766.5" y="482.3" width="21" height="22.9" fill="#1b911b"/>
<line x1="2802.4" y1="428.6" x2="2802.4" y2="499.1" stroke="#1b911b" stroke-width="2"/>
<rect x="2792.0" y="466.3" width="21" height="14.7" fill="#1b911b"/>
<line x1="2827.9" y1="456.4" x2="2827.9" y2="510.9" stroke="#1b911b" stroke-width="2"/>
<rect x="2817.5" y="476.5" width="21" height="28.7" fill="#1b911b"/>
<line x1="2853.4" y1="452.3" x2="2853.4" y2="453.2" stroke="#b8141e" stroke-width="2"/>
<line x1="2853.4" y1="494.1" x2="2853.4" y2="495.8" stroke="#b8141e" stroke-width="2"/>
<rect x="2844.0" y="454.2" width="19" height="39.0" fill="#fff" stroke="#b8141e" stroke-width="2"/>
<line x1="2878.9" y1="413.4" x2="2878.9" y2="433.5" stroke="#b8141e" stroke-width="2"/>
<line x1="2878.9" y1="438.8" x2="2878.9" y2="449.5" stroke="#b8141e" stroke-width="2"/>
<rect x="2869.5" y="434.5" width="19" height="3.3" fill="#fff" stroke="#b8141e" stroke-width="2"/>
<line x1="2904.4" y1="384.7" x2="2904.4" y2="385.6" stroke="#b8141e" stroke-width="2"/>
<line x1="2904.4" y1="447.8" x2="2904.4" y2="452.3" stroke="#b8141e" stroke-width="2"/>
<rect x="2895.0" y="386.6" width="19" height="60.3" fill="#fff" stroke="#b8141e" stroke-width="2"/>
<line x1="2929.9" y1="386.8" x2="2929.9" y2="411.8" stroke="#1b911b" stroke-width="2"/>
<rect x="2919.5" y="389.7" width="21" height="9.0" fill="#1b911b"/>
<line x1="2955.4" y1="404.0" x2="2955.4" y2="448.2" stroke="#1b911b" stroke-width="2"/>
<rect x="2945.0" y="404.0" width="21" height="12.3" fill="#1b911b"/>
<line x1="2980.9" y1="404.8" x2="2980.9" y2="438.8" stroke="#1b911b" stroke-width="2"/>
<rect x="2970.5" y="412.6" width="21" height="18.8" fill="#1b911b"/>
<line x1="3006.4" y1="408.6" x2="3006.4" y2="441.8" stroke="#1b911b" stroke-width="2"/>
<rect x="2996.0" y="415.6" width="21" height="8.8" fill="#1b911b"/>
<line x1="3031.9" y1="384.7" x2="3031.9" y2="385.4" stroke="#b8141e" stroke-width="2"/>
<line x1="3031.9" y1="418.3" x2="3031.9" y2="452.6" stroke="#b8141e" stroke-width="2"/>
<rect x="3022.5" y="386.4" width="19" height="30.9" fill="#fff" stroke="#b8141e" stroke-width="2"/>
<line x1="3057.4" y1="356.5" x2="3057.4" y2="370.6" stroke="#b8141e" stroke-width="2"/>
<line x1="3057.4" y1="377.3" x2="3057.4" y2="384.7" stroke="#b8141e" stroke-width="2"/>
<rect x="3048.0" y="371.6" width="19" height="4.7" fill="#fff" stroke="#b8141e" stroke-width="2"/>
<line x1="3082.9" y1="318.2" x2="3082.9" y2="323.5" stroke="#b8141e" stroke-width="2"/>
<line x1="3082.9" y1="359.0" x2="3082.9" y2="362.3" stroke="#b8141e" stroke-width="2"/>
<rect x="3073.5" y="324.5" width="19" height="33.5" fill="#fff" stroke="#b8141e" stroke-width="2"/>
<line x1="3108.4" y1="307.3" x2="3108.4" y2="307.8" stroke="#b8141e" stroke-width="2"/>
<line x1="3108.4" y1="325.2" x2="3108.4" y2="336.3" stroke="#b8141e" stroke-width="2"/>
<rect x="3099.0" y="308.8" width="19" height="15.4" fill="#fff" stroke="#b8141e" stroke-width="2"/>
<line x1="3133.9" y1="314.3" x2="3133.9" y2="316.6" stroke="#b8141e" stroke-width="2"/>
<line x1="3133.9" y1="331.2" x2="3133.9" y2="338.6" stroke="#b8141e" stroke-width="2"/>
<rect x="3124.5" y="317.6" width="19" height="12.6" fill="#fff" stroke="#b8141e" stroke-width="2"/>
<line x1="3159.4" y1="275.1" x2="3159.4" y2="283.4" stroke="#b8141e" stroke-width="2"/>
<line x1="3159.4" y1="314.0" x2="3159.4" y2="321.7" stroke="#b8141e" stroke-width="2"/>
<rect x="3150.0" y="284.4" width="19" height="28.6" fill="#fff" stroke="#b8141e" stroke-width="2"/>
<line x1="3184.9" y1="272.3" x2="3184.9" y2="314.5" stroke="#1b911b" stroke-width="2"/>
<rect x="3174.5" y="272.3" width="21" height="33.1" fill="#1b911b"/>
<line x1="3210.4" y1="293.2" x2="3210.4" y2="332.6" stroke="#1b911b" stroke-width="2"/>
<rect x="3200.0" y="301.3" width="21" height="10.2" fill="#1b911b"/>
<line x1="3235.9" y1="302.0" x2="3235.9" y2="324.7" stroke="#1b911b" stroke-width="2"/>
<rect x="3225.5" y="308.2" width="21" height="6.3" fill="#1b911b"/>
<line x1="3261.4" y1="328.9" x2="3261.4" y2="360.6" stroke="#1b911b" stroke-width="2"/>
<rect x="3251.0" y="334.4" width="21" height="15.1" fill="#1b911b"/>
<line x1="3286.9" y1="314.3" x2="3286.9" y2="320.8" stroke="#b8141e" stroke-width="2"/>
<line x1="3286.9" y1="336.3" x2="3286.9" y2="342.5" stroke="#b8141e" stroke-width="2"/>
<rect x="3277.5" y="321.8" width="19" height="13.5" fill="#fff" stroke="#b8141e" stroke-width="2"/>
<line x1="3312.4" y1="251.5" x2="3312.4" y2="251.9" stroke="#b8141e" stroke-width="2"/>
<line x1="3312.4" y1="323.1" x2="3312.4" y2="324.5" stroke="#b8141e" stroke-width="2"/>
<rect x="3303.0" y="252.9" width="19" height="69.2" fill="#fff" stroke="#b8141e" stroke-width="2"/>
<line x1="3337.9" y1="228.3" x2="3337.9" y2="236.6" stroke="#b8141e" stroke-width="2"/>
<line x1="3337.9" y1="265.1" x2="3337.9" y2="266.8" stroke="#b8141e" stroke-width="2"/>
<rect x="3328.5" y="237.6" width="19" height="26.5" fill="#fff" stroke="#b8141e" stroke-width="2"/>
</g>
<polyline points="48.5,282.5 100.0,290.0 150.0,299.0 200.0,305.0 250.0,309.0 300.0,313.5 330.0,315.0 380.0,321.0 430.0,329.0 480.0,335.0 530.0,340.0 580.0,344.0 630.0,349.0 680.0,354.0 730.0,358.5 780.0,361.0 830.0,366.0 880.0,370.0 930.0,377.5 980.0,384.0 1030.0,390.0 1080.0,396.0 1130.0,399.0 1180.0,405.0 1230.0,412.5 1280.0,420.0 1310.0,426.0 1323.2,429.0 1349.0,435.6 1374.4,441.3 1399.8,447.5 1425.2,453.6 1451.0,459.8 1476.4,468.0 1501.8,473.3 1527.2,477.4 1552.6,483.5 1578.4,489.7 1603.8,494.6 1629.2,497.4 1654.6,501.5 1680.4,504.8 1705.8,506.9 1731.2,509.3 1756.6,512.2 1782.4,514.2 1807.8,516.3 1833.2,517.1 1858.6,517.9 1884.3,517.9 1935.3,518.4 2037.3,517.1 2088.1,517.5 2164.7,518.4 2241.3,520.4 2292.1,522.5 2343.3,523.7 2368.7,525.3 2394.1,525.3 2419.7,524.0 2445.5,524.9 2521.7,524.9 2598.3,524.0 2674.9,524.0 2725.7,525.7 2751.1,527.7 2776.9,529.0 2827.7,529.0 2878.9,529.0 2904.3,527.7 2955.1,524.0 2980.9,522.4 3016.5,519.6 3074.7,513.8 3132.9,506.6 3181.4,498.2 3230.0,494.7 3288.2,487.6 3338.7,480.4" fill="none" stroke="#000" stroke-width="3.0" stroke-linejoin="round" stroke-linecap="round" shape-rendering="crispEdges"/>
<polyline points="48.5,311.0 100.0,335.0 150.0,356.0 200.0,372.5 250.0,392.5 280.0,401.5 300.0,415.0 330.0,426.0 380.0,450.0 405.0,465.0 455.0,489.0 505.0,506.0 555.0,518.5 605.0,536.0 655.0,551.5 705.0,565.0 755.0,581.0 805.0,595.0 855.0,612.5 890.0,621.0 940.0,635.0 980.0,642.5 1030.0,649.0 1080.0,652.5 1130.0,655.0 1195.0,660.0 1220.0,665.0 1270.0,667.5 1310.0,667.5 1323.2,669.9 1349.0,671.2 1374.4,672.0 1399.8,672.0 1425.2,672.0 1451.0,672.0 1476.4,672.0 1501.8,672.0 1527.2,671.6 1552.6,670.7 1578.4,665.8 1603.8,663.0 1629.2,660.5 1654.6,656.8 1680.4,652.3 1705.8,649.4 1731.2,646.6 1756.6,642.1 1782.4,633.9 1807.8,626.1 1833.2,615.8 1858.6,606.4 1884.3,595.8 1909.9,586.0 1935.3,571.6 1960.7,558.1 1986.5,547.0 2011.9,536.8 2037.3,526.6 2062.7,521.2 2088.1,515.1 2113.9,506.1 2139.3,497.9 2164.7,488.9 2190.1,482.7 2215.9,477.4 2241.3,472.1 2266.7,468.0 2292.1,463.1 2317.5,456.9 2343.3,449.9 2368.7,441.3 2394.1,435.6 2419.7,429.8 2445.5,423.7 2470.9,417.1 2496.3,412.2 2521.7,406.1 2547.1,402.0 2572.9,396.6 2598.3,394.6 2623.7,392.9 2649.1,392.5 2700.3,392.1 2751.1,390.9 2802.3,390.9 2853.1,389.7 2878.9,386.4 2904.3,382.3 2929.7,379.4 2955.1,375.3 2980.9,372.5 3006.4,368.5 3031.9,364.6 3057.4,360.4 3082.9,356.5 3108.4,351.1 3133.9,347.6 3159.4,344.9 3184.9,341.9 3210.4,340.7 3235.9,339.5 3261.4,338.4 3286.9,336.8 3312.6,335.4 3338.1,335.1" fill="none" stroke="#000" stroke-width="3.0" stroke-linejoin="round" stroke-linecap="round" shape-rendering="crispEdges"/>
<polyline points="48.5,389.0 100.0,412.5 150.0,433.5 200.0,455.0 230.0,467.5 280.0,493.5 330.0,523.5 380.0,552.5 430.0,590.0 465.0,608.5 505.0,628.5 555.0,642.5 585.0,650.0 630.0,669.0 660.0,679.4 685.8,689.6 711.2,698.2 736.6,705.2 762.4,710.1 787.8,714.6 813.2,719.6 838.6,723.6 864.0,727.7 889.8,731.0 915.2,733.9 940.6,737.2 966.0,738.4 991.8,737.2 1017.2,735.9 1042.6,734.3 1068.0,726.5 1093.9,719.6 1119.3,714.2 1144.7,708.1 1170.1,702.3 1195.5,699.9 1220.9,696.2 1246.7,692.9 1272.1,686.8 1297.6,679.0 1323.2,670.7 1349.0,664.6 1374.4,660.5 1399.8,655.6 1425.2,646.2 1451.0,635.1 1476.4,626.9 1501.8,620.8 1527.2,614.6 1552.6,611.3 1578.4,609.3 1603.8,605.6 1629.2,597.0 1654.6,588.8 1680.4,581.8 1705.8,576.5 1731.2,571.6 1756.6,565.5 1782.4,558.1 1807.8,547.0 1833.2,536.8 1858.6,525.7 1884.3,514.3 1909.9,502.0 1935.3,489.7 1960.7,477.4 1986.5,465.1 2011.9,454.9 2037.3,446.7 2062.7,440.5 2088.1,437.2 2113.9,434.8 2139.3,428.2 2164.7,423.3 2190.1,419.2 2215.9,413.9 2241.3,407.7 2266.7,404.5 2292.1,402.4 2317.5,396.3 2343.3,388.1 2368.7,379.1 2394.1,371.7 2419.7,365.1 2445.5,357.7 2470.9,352.8 2496.3,345.8 2521.7,339.3 2547.1,332.3 2572.9,326.2 2598.3,318.8 2623.7,314.7 2649.1,312.6 2674.9,312.6 2700.3,312.6 2725.7,313.9 2751.1,314.7 2776.9,317.2 2802.3,320.0 2827.7,325.3 2853.1,330.3 2878.9,335.6 2904.3,338.5 2929.7,341.7 2955.1,347.9 2980.9,352.8 3006.4,358.8 3031.9,363.4 3057.4,366.4 3082.9,365.0 3133.9,365.0 3184.9,365.0 3210.4,367.4 3235.9,369.2 3261.4,369.9 3286.9,369.2 3312.6,365.3 3338.1,365.3" fill="none" stroke="#1a7f8c" stroke-width="3.0" stroke-linejoin="round" stroke-linecap="round" shape-rendering="crispEdges"/>
<polyline points="48.5,504.0 80.0,525.0 125.0,557.5 150.0,570.0 200.0,600.0 251.2,633.0 278.9,645.3 303.3,662.9 329.5,680.7 379.9,709.2 405.3,726.4 431.1,746.1 456.5,764.1 481.9,773.5 507.3,783.8 533.1,786.2 583.9,782.5 635.1,789.1 660.0,793.3 685.8,795.8 711.2,794.1 736.6,791.2 762.4,785.9 787.8,783.5 813.2,776.1 838.6,767.9 864.0,759.7 889.8,752.3 915.2,738.8 940.6,723.6 966.0,711.4 991.8,701.1 1017.2,686.8 1042.6,680.6 1068.0,670.4 1093.9,658.9 1119.3,643.8 1144.7,626.6 1170.1,613.9 1195.5,602.8 1220.9,599.5 1246.7,591.3 1272.1,583.1 1297.6,575.5 1323.2,565.5 1349.0,562.2 1374.4,560.1 1399.8,556.0 1425.2,552.3 1451.0,545.0 1476.4,543.3 1501.8,542.5 1527.2,544.2 1552.6,545.0 1578.4,548.2 1603.8,551.9 1629.2,552.3 1654.6,551.5 1680.4,548.2 1705.8,545.0 1731.2,542.1 1756.6,537.6 1782.4,531.5 1807.8,520.4 1833.2,504.0 1858.6,485.6 1884.3,462.0 1909.9,434.4 1935.3,413.9 1960.7,394.6 1986.5,377.0 2011.9,363.5 2037.3,350.4 2062.7,338.9 2088.1,327.9 2113.9,316.8 2139.3,306.1 2164.7,299.2 2190.1,291.0 2215.9,283.6 2241.3,275.8 2266.7,270.5 2292.1,273.4 2317.5,272.6 2343.3,273.4 2368.7,275.4 2394.1,278.7 2419.7,286.0 2445.5,293.4 2470.9,298.7 2496.3,302.8 2521.7,307.7 2547.1,307.7 2572.9,306.5 2598.3,309.8 2623.7,314.7 2649.1,320.8 2674.9,329.0 2700.3,336.4 2725.7,344.6 2751.1,352.8 2776.9,361.0 2802.3,365.1 2827.7,376.6 2853.1,386.8 2878.9,394.6 2904.3,397.9 2929.7,400.7 2955.1,403.2 2980.9,408.1 3006.4,413.2 3031.9,418.3 3057.4,423.0 3082.9,424.8 3108.4,422.5 3133.9,417.4 3159.4,410.9 3184.9,403.3 3210.4,398.2 3235.9,390.5 3261.4,386.6 3286.9,378.5 3312.6,365.0 3338.1,351.4" fill="none" stroke="#1e9bff" stroke-width="3.0" stroke-linejoin="round" stroke-linecap="round" shape-rendering="crispEdges"/>
<polyline points="48.5,616.0 75.0,641.0 125.0,669.0 150.0,671.5 175.0,669.0 225.0,680.0 251.2,689.5 277.9,697.3 303.3,707.2 329.1,719.4 379.9,749.8 405.3,785.0 431.1,828.0 456.5,852.6 481.9,863.6 507.3,875.9 533.1,873.1 583.9,842.3 635.1,828.8 660.3,797.7 685.8,765.8 711.2,735.9 736.6,717.5 762.4,697.8 787.8,693.7 813.2,693.3 838.6,691.7 864.0,683.9 889.8,675.7 915.2,677.8 940.6,683.5 966.0,687.6 991.8,683.9 1017.2,675.3 1042.6,668.8 1068.0,645.8 1093.9,623.3 1119.3,600.7 1144.7,576.2 1170.1,550.8 1195.5,521.7 1220.9,509.8 1246.7,498.3 1272.1,490.9 1297.6,482.3 1323.2,488.4 1349.0,504.0 1374.4,518.3 1399.8,533.5 1425.2,554.0 1451.0,568.7 1476.4,574.5 1501.8,586.8 1527.2,598.2 1552.6,606.4 1578.4,607.7 1603.8,600.3 1629.2,585.9 1654.6,567.5 1680.4,542.1 1705.8,522.4 1731.2,508.1 1756.6,492.5 1782.4,465.1 1807.8,434.4 1833.2,403.6 1858.6,375.0 1884.3,347.3 1909.9,323.8 1935.3,304.5 1960.7,288.9 1986.5,266.4 2011.9,245.9 2037.3,236.9 2062.7,243.9 2088.1,250.0 2113.9,256.2 2139.3,259.0 2164.7,267.2 2190.1,275.8 2215.9,277.5 2241.3,284.8 2266.7,295.9 2292.1,308.6 2317.5,304.5 2343.3,297.1 2368.7,294.3 2394.1,297.1 2419.7,302.4 2445.5,313.9 2470.9,323.3 2496.3,324.1 2521.7,320.8 2547.1,310.6 2572.9,311.0 2598.3,324.1 2623.7,333.1 2649.1,342.6 2674.9,352.8 2700.3,355.7 2725.7,365.1 2751.1,383.5 2776.9,406.9 2802.3,428.6 2827.7,445.8 2853.1,453.2 2878.9,458.1 2904.3,455.2 2929.7,449.9 2955.1,449.1 2980.9,446.2 3006.4,443.8 3031.9,432.5 3057.4,421.4 3082.9,402.8 3108.4,388.9 3133.9,375.7 3159.4,364.6 3184.9,356.9 3210.4,346.0 3235.9,334.4 3261.4,327.0 3286.9,321.7 3312.6,308.9 3338.1,300.4" fill="none" stroke="#ff3232" stroke-width="3.0" stroke-linejoin="round" stroke-linecap="round" shape-rendering="crispEdges"/>
<path d="M1936.4,110.0 l6,-3 v6 Z" fill="#000"/><line x1="1940.4" y1="110.0" x2="1952.4" y2="110.0" stroke="#000" stroke-width="1.3"/>
<text x="1955.4" y="117.0" font-size="19.8" fill="#000">4268.15</text>
<path d="M431.9,1038.1 l6,-3 v6 Z" fill="#000"/><line x1="435.9" y1="1038.1" x2="447.9" y2="1038.1" stroke="#000" stroke-width="1.3"/>
<text x="450.9" y="1045.1" font-size="19.8" fill="#000">3495.95</text>
<line x1="36" y1="1122.5" x2="3382" y2="1122.5" stroke="#5a5a5a" stroke-width="1" stroke-dasharray="1 3 1 4"/>
<text x="3387.0" y="1129.4" font-size="18.5" fill="#1a8a9c">3944</text>
<line x1="36" y1="1187.5" x2="3382" y2="1187.5" stroke="#5a5a5a" stroke-width="1" stroke-dasharray="1 3 1 4"/>
<text x="3387.0" y="1194.5" font-size="18.5" fill="#1a8a9c">2640</text>
<line x1="36" y1="1251.5" x2="3382" y2="1251.5" stroke="#5a5a5a" stroke-width="1" stroke-dasharray="1 3 1 4"/>
<text x="3387.0" y="1258.6" font-size="18.5" fill="#1a8a9c">1335</text>
<g shape-rendering="crispEdges">
<rect x="38.0" y="1219.2" width="21" height="98.2" fill="#1b911b"/>
<rect x="63.5" y="1232.2" width="21" height="85.2" fill="#1b911b"/>
<rect x="90.2" y="1213.4" width="18.4" height="103.1" fill="#fff" stroke="#b8141e" stroke-width="2"/>
<rect x="114.5" y="1217.2" width="21" height="100.2" fill="#1b911b"/>
<rect x="141.2" y="1188.7" width="18.4" height="127.8" fill="#fff" stroke="#b8141e" stroke-width="2"/>
<rect x="166.7" y="1206.4" width="18.4" height="110.1" fill="#fff" stroke="#b8141e" stroke-width="2"/>
<rect x="191.0" y="1223.2" width="21" height="94.2" fill="#1b911b"/>
<rect x="216.5" y="1221.5" width="21" height="95.9" fill="#1b911b"/>
<rect x="243.2" y="1215.8" width="18.4" height="100.7" fill="#fff" stroke="#b8141e" stroke-width="2"/>
<rect x="267.5" y="1224.9" width="21" height="92.5" fill="#1b911b"/>
<rect x="293.0" y="1186.2" width="21" height="131.2" fill="#1b911b"/>
<rect x="319.7" y="1213.1" width="18.4" height="103.4" fill="#fff" stroke="#b8141e" stroke-width="2"/>
<rect x="345.2" y="1196.7" width="18.4" height="119.8" fill="#fff" stroke="#b8141e" stroke-width="2"/>
<rect x="369.5" y="1187.2" width="21" height="130.2" fill="#1b911b"/>
<rect x="395.0" y="1194.2" width="21" height="123.2" fill="#1b911b"/>
<rect x="421.7" y="1188.7" width="18.4" height="127.8" fill="#fff" stroke="#b8141e" stroke-width="2"/>
<rect x="447.2" y="1170.7" width="18.4" height="145.8" fill="#fff" stroke="#b8141e" stroke-width="2"/>
<rect x="472.7" y="1172.7" width="18.4" height="143.8" fill="#fff" stroke="#b8141e" stroke-width="2"/>
<rect x="498.2" y="1209.8" width="18.4" height="106.7" fill="#fff" stroke="#b8141e" stroke-width="2"/>
<rect x="523.7" y="1161.7" width="18.4" height="154.8" fill="#fff" stroke="#b8141e" stroke-width="2"/>
<rect x="549.2" y="1192.4" width="18.4" height="124.1" fill="#fff" stroke="#b8141e" stroke-width="2"/>
<rect x="573.5" y="1219.2" width="21" height="98.2" fill="#1b911b"/>
<rect x="599.0" y="1229.2" width="21" height="88.2" fill="#1b911b"/>
<rect x="624.5" y="1225.2" width="21" height="92.2" fill="#1b911b"/>
<rect x="651.2" y="1145.7" width="18.4" height="170.8" fill="#fff" stroke="#b8141e" stroke-width="2"/>
<rect x="675.5" y="1159.1" width="21" height="158.3" fill="#1b911b"/>
<rect x="702.2" y="1169.7" width="18.4" height="146.8" fill="#fff" stroke="#b8141e" stroke-width="2"/>
<rect x="726.5" y="1198.2" width="21" height="119.2" fill="#1b911b"/>
<rect x="752.0" y="1207.5" width="21" height="109.9" fill="#1b911b"/>
<rect x="777.5" y="1204.2" width="21" height="113.2" fill="#1b911b"/>
<rect x="803.0" y="1222.2" width="21" height="95.2" fill="#1b911b"/>
<rect x="829.7" y="1215.8" width="18.4" height="100.7" fill="#fff" stroke="#b8141e" stroke-width="2"/>
<rect x="855.2" y="1217.4" width="18.4" height="99.1" fill="#fff" stroke="#b8141e" stroke-width="2"/>
<rect x="879.5" y="1234.9" width="21" height="82.5" fill="#1b911b"/>
<rect x="906.2" y="1221.8" width="18.4" height="94.7" fill="#fff" stroke="#b8141e" stroke-width="2"/>
<rect x="931.7" y="1218.4" width="18.4" height="98.1" fill="#fff" stroke="#b8141e" stroke-width="2"/>
<rect x="957.2" y="1173.7" width="18.4" height="142.8" fill="#fff" stroke="#b8141e" stroke-width="2"/>
<rect x="982.7" y="1194.7" width="18.4" height="121.8" fill="#fff" stroke="#b8141e" stroke-width="2"/>
<rect x="1007.0" y="1163.1" width="21" height="154.3" fill="#1b911b"/>
<rect x="1032.5" y="1215.9" width="21" height="101.5" fill="#1b911b"/>
<rect x="1059.2" y="1169.7" width="18.4" height="146.8" fill="#fff" stroke="#b8141e" stroke-width="2"/>
<rect x="1084.7" y="1179.7" width="18.4" height="136.8" fill="#fff" stroke="#b8141e" stroke-width="2"/>
<rect x="1110.2" y="1190.7" width="18.4" height="125.8" fill="#fff" stroke="#b8141e" stroke-width="2"/>
<rect x="1135.7" y="1218.4" width="18.4" height="98.1" fill="#fff" stroke="#b8141e" stroke-width="2"/>
<rect x="1161.2" y="1185.0" width="18.4" height="131.5" fill="#fff" stroke="#b8141e" stroke-width="2"/>
<rect x="1185.5" y="1202.2" width="21" height="115.2" fill="#1b911b"/>
<rect x="1211.0" y="1223.2" width="21" height="94.2" fill="#1b911b"/>
<rect x="1237.7" y="1218.8" width="18.4" height="97.7" fill="#fff" stroke="#b8141e" stroke-width="2"/>
<rect x="1262.0" y="1225.2" width="21" height="92.2" fill="#1b911b"/>
<rect x="1288.7" y="1233.8" width="18.4" height="82.7" fill="#fff" stroke="#b8141e" stroke-width="2"/>
<rect x="1313.0" y="1225.2" width="21" height="92.2" fill="#1b911b"/>
<rect x="1338.5" y="1234.2" width="21" height="83.2" fill="#1b911b"/>
<rect x="1364.0" y="1253.3" width="21" height="64.1" fill="#1b911b"/>
<rect x="1389.5" y="1234.2" width="21" height="83.2" fill="#1b911b"/>
<rect x="1416.2" y="1251.8" width="18.4" height="64.7" fill="#fff" stroke="#b8141e" stroke-width="2"/>
<rect x="1441.7" y="1242.8" width="18.4" height="73.7" fill="#fff" stroke="#b8141e" stroke-width="2"/>
<rect x="1467.2" y="1241.5" width="18.4" height="75.0" fill="#fff" stroke="#b8141e" stroke-width="2"/>
<rect x="1491.5" y="1235.2" width="21" height="82.2" fill="#1b911b"/>
<rect x="1518.2" y="1242.5" width="18.4" height="74.0" fill="#fff" stroke="#b8141e" stroke-width="2"/>
<rect x="1542.5" y="1240.6" width="21" height="76.8" fill="#1b911b"/>
<rect x="1569.2" y="1215.1" width="18.4" height="101.4" fill="#fff" stroke="#b8141e" stroke-width="2"/>
<rect x="1594.7" y="1217.4" width="18.4" height="99.1" fill="#fff" stroke="#b8141e" stroke-width="2"/>
<rect x="1620.2" y="1190.7" width="18.4" height="125.8" fill="#fff" stroke="#b8141e" stroke-width="2"/>
<rect x="1645.7" y="1199.7" width="18.4" height="116.8" fill="#fff" stroke="#b8141e" stroke-width="2"/>
<rect x="1671.2" y="1200.7" width="18.4" height="115.8" fill="#fff" stroke="#b8141e" stroke-width="2"/>
<rect x="1696.7" y="1210.8" width="18.4" height="105.7" fill="#fff" stroke="#b8141e" stroke-width="2"/>
<rect x="1721.0" y="1218.2" width="21" height="99.2" fill="#1b911b"/>
<rect x="1746.5" y="1223.2" width="21" height="94.2" fill="#1b911b"/>
<rect x="1773.2" y="1211.8" width="18.4" height="104.7" fill="#fff" stroke="#b8141e" stroke-width="2"/>
<rect x="1798.7" y="1158.7" width="18.4" height="157.8" fill="#fff" stroke="#b8141e" stroke-width="2"/>
<rect x="1823.0" y="1212.2" width="21" height="105.2" fill="#1b911b"/>
<rect x="1848.5" y="1229.2" width="21" height="88.2" fill="#1b911b"/>
<rect x="1875.2" y="1221.8" width="18.4" height="94.7" fill="#fff" stroke="#b8141e" stroke-width="2"/>
<rect x="1900.7" y="1206.4" width="18.4" height="110.1" fill="#fff" stroke="#b8141e" stroke-width="2"/>
<rect x="1925.0" y="1151.1" width="21" height="166.3" fill="#1b911b"/>
<rect x="1950.5" y="1192.2" width="21" height="125.2" fill="#1b911b"/>
<rect x="1977.2" y="1184.7" width="18.4" height="131.8" fill="#fff" stroke="#b8141e" stroke-width="2"/>
<rect x="2001.5" y="1184.1" width="21" height="133.3" fill="#1b911b"/>
<rect x="2027.0" y="1203.2" width="21" height="114.2" fill="#1b911b"/>
<rect x="2052.5" y="1203.2" width="21" height="114.2" fill="#1b911b"/>
<rect x="2078.0" y="1225.2" width="21" height="92.2" fill="#1b911b"/>
<rect x="2103.5" y="1231.2" width="21" height="86.2" fill="#1b911b"/>
<rect x="2130.2" y="1212.4" width="18.4" height="104.1" fill="#fff" stroke="#b8141e" stroke-width="2"/>
<rect x="2154.5" y="1219.2" width="21" height="98.2" fill="#1b911b"/>
<rect x="2181.2" y="1191.7" width="18.4" height="124.8" fill="#fff" stroke="#b8141e" stroke-width="2"/>
<rect x="2205.5" y="1214.2" width="21" height="103.2" fill="#1b911b"/>
<rect x="2231.0" y="1213.2" width="21" height="104.2" fill="#1b911b"/>
<rect x="2256.5" y="1175.1" width="21" height="142.3" fill="#1b911b"/>
<rect x="2282.0" y="1203.2" width="21" height="114.2" fill="#1b911b"/>
<rect x="2308.7" y="1178.4" width="18.4" height="138.1" fill="#fff" stroke="#b8141e" stroke-width="2"/>
<rect x="2334.2" y="1193.7" width="18.4" height="122.8" fill="#fff" stroke="#b8141e" stroke-width="2"/>
<rect x="2358.5" y="1220.2" width="21" height="97.2" fill="#1b911b"/>
<rect x="2384.0" y="1217.2" width="21" height="100.2" fill="#1b911b"/>
<rect x="2409.5" y="1220.2" width="21" height="97.2" fill="#1b911b"/>
<rect x="2436.2" y="1223.8" width="18.4" height="92.7" fill="#fff" stroke="#b8141e" stroke-width="2"/>
<rect x="2461.7" y="1217.8" width="18.4" height="98.7" fill="#fff" stroke="#b8141e" stroke-width="2"/>
<rect x="2487.2" y="1190.7" width="18.4" height="125.8" fill="#fff" stroke="#b8141e" stroke-width="2"/>
<rect x="2511.5" y="1198.2" width="21" height="119.2" fill="#1b911b"/>
<rect x="2538.2" y="1204.1" width="18.4" height="112.4" fill="#fff" stroke="#b8141e" stroke-width="2"/>
<rect x="2562.5" y="1175.1" width="21" height="142.3" fill="#1b911b"/>
<rect x="2588.0" y="1180.1" width="21" height="137.3" fill="#1b911b"/>
<rect x="2614.7" y="1221.8" width="18.4" height="94.7" fill="#fff" stroke="#b8141e" stroke-width="2"/>
<rect x="2639.0" y="1216.2" width="21" height="101.2" fill="#1b911b"/>
<rect x="2664.5" y="1208.2" width="21" height="109.2" fill="#1b911b"/>
<rect x="2691.2" y="1196.7" width="18.4" height="119.8" fill="#fff" stroke="#b8141e" stroke-width="2"/>
<rect x="2715.5" y="1183.1" width="21" height="134.3" fill="#1b911b"/>
<rect x="2741.0" y="1203.2" width="21" height="114.2" fill="#1b911b"/>
<rect x="2766.5" y="1193.2" width="21" height="124.2" fill="#1b911b"/>
<rect x="2792.0" y="1163.1" width="21" height="154.3" fill="#1b911b"/>
<rect x="2817.5" y="1157.1" width="21" height="160.3" fill="#1b911b"/>
<rect x="2844.2" y="1191.7" width="18.4" height="124.8" fill="#fff" stroke="#b8141e" stroke-width="2"/>
<rect x="2869.7" y="1185.7" width="18.4" height="130.8" fill="#fff" stroke="#b8141e" stroke-width="2"/>
<rect x="2895.2" y="1169.7" width="18.4" height="146.8" fill="#fff" stroke="#b8141e" stroke-width="2"/>
<rect x="2919.5" y="1169.1" width="21" height="148.3" fill="#1b911b"/>
<rect x="2945.0" y="1159.1" width="21" height="158.3" fill="#1b911b"/>
<rect x="2970.5" y="1192.2" width="21" height="125.2" fill="#1b911b"/>
<rect x="2996.0" y="1184.1" width="21" height="133.3" fill="#1b911b"/>
<rect x="3022.7" y="1178.4" width="18.4" height="138.1" fill="#fff" stroke="#b8141e" stroke-width="2"/>
<rect x="3048.2" y="1179.0" width="18.4" height="137.5" fill="#fff" stroke="#b8141e" stroke-width="2"/>
<rect x="3073.7" y="1127.6" width="18.4" height="188.9" fill="#fff" stroke="#b8141e" stroke-width="2"/>
<rect x="3099.2" y="1122.6" width="18.4" height="193.9" fill="#fff" stroke="#b8141e" stroke-width="2"/>
<rect x="3124.7" y="1154.7" width="18.4" height="161.8" fill="#fff" stroke="#b8141e" stroke-width="2"/>
<rect x="3150.2" y="1175.0" width="18.4" height="141.5" fill="#fff" stroke="#b8141e" stroke-width="2"/>
<rect x="3174.5" y="1147.1" width="21" height="170.3" fill="#1b911b"/>
<rect x="3200.0" y="1154.1" width="21" height="163.3" fill="#1b911b"/>
<rect x="3225.5" y="1154.1" width="21" height="163.3" fill="#1b911b"/>
<rect x="3251.0" y="1167.1" width="21" height="150.3" fill="#1b911b"/>
<rect x="3277.7" y="1165.0" width="18.4" height="151.5" fill="#fff" stroke="#b8141e" stroke-width="2"/>
<rect x="3303.2" y="1146.7" width="18.4" height="169.8" fill="#fff" stroke="#b8141e" stroke-width="2"/>
<rect x="3328.7" y="1152.3" width="18.4" height="164.2" fill="#fff" stroke="#b8141e" stroke-width="2"/>
</g>
<polyline points="48.4,1229.9 96.8,1228.2 146.8,1221.5 196.9,1220.9 263.7,1216.5 297.1,1213.2 347.2,1209.9 397.2,1206.5 430.6,1204.2 464.0,1198.2 480.7,1194.2 514.1,1193.2 537.5,1187.2 564.2,1188.8 597.5,1191.5 630.9,1196.5 664.3,1189.8 697.7,1187.5 731.1,1188.8 764.5,1193.2 814.5,1198.8 847.9,1196.5 884.0,1196.8 913.4,1205.5 946.8,1210.9 996.8,1210.9 1046.9,1204.8 1097.0,1199.8 1147.1,1192.2 1180.5,1188.2 1197.2,1188.2 1220.5,1193.2 1263.9,1201.5 1307.3,1207.5 1347.4,1214.9 1374.1,1222.5 1400.8,1224.9 1447.5,1234.9 1497.6,1237.2 1554.4,1241.6 1604.5,1238.2 1631.2,1229.9 1681.2,1223.2 1734.0,1216.7 1763.4,1214.2 1806.8,1203.2 1830.2,1203.2 1880.2,1206.5 1913.6,1208.2 1963.7,1202.2 1997.1,1198.2 2037.1,1194.2 2063.9,1198.2 2097.2,1199.8 2164.0,1199.8 2187.4,1204.2 2230.8,1204.8 2297.5,1205.5 2330.9,1206.5 2397.7,1203.2 2447.8,1206.5 2497.9,1204.8 2547.9,1204.8 2584.0,1204.2 2646.8,1205.5 2680.2,1202.2 2720.2,1196.5 2746.9,1198.2 2797.0,1194.8 2847.1,1193.2 2897.2,1185.5 2947.2,1178.8 2997.3,1176.5 3047.4,1175.5 3080.8,1173.1 3114.2,1165.5 3147.5,1163.1 3180.9,1162.1 3231.0,1158.1 3281.1,1153.1 3311.1,1150.4 3337.8,1154.1" fill="none" stroke="#14e014" stroke-width="2.8" stroke-linejoin="round" stroke-linecap="round" shape-rendering="crispEdges"/>
<polyline points="48.4,1220.9 113.5,1221.5 196.9,1221.5 280.4,1223.9 330.5,1219.9 397.2,1215.9 464.0,1210.9 497.4,1206.5 530.8,1203.2 564.2,1199.8 614.2,1199.8 630.9,1202.2 664.3,1198.2 697.7,1194.8 764.5,1193.8 884.0,1196.8 930.1,1200.5 980.2,1201.5 1046.9,1201.5 1113.7,1196.5 1180.5,1198.2 1213.9,1201.5 1280.6,1204.8 1347.4,1208.9 1414.2,1210.9 1480.9,1214.2 1547.7,1221.5 1604.5,1226.5 1681.2,1226.5 1734.0,1225.9 1763.4,1227.5 1830.2,1220.9 1896.9,1218.2 1947.0,1212.2 1997.1,1207.5 2030.5,1203.2 2097.2,1203.2 2164.0,1204.8 2230.8,1205.5 2264.2,1202.2 2330.9,1203.2 2364.3,1199.8 2397.7,1200.5 2447.8,1205.5 2497.9,1205.5 2584.0,1203.2 2680.2,1204.8 2746.9,1203.8 2813.7,1199.8 2880.5,1194.8 2947.2,1189.8 3014.0,1187.5 3064.1,1184.8 3114.2,1178.1 3180.9,1173.1 3247.7,1167.5 3297.8,1164.8 3337.8,1163.1" fill="none" stroke="#00e0f0" stroke-width="2.8" stroke-linejoin="round" stroke-linecap="round" shape-rendering="crispEdges"/>
<polyline points="48.4,1209.2 73.4,1210.9 196.9,1210.9 297.1,1213.2 363.9,1214.2 464.0,1211.5 530.8,1210.9 630.9,1210.9 697.7,1207.2 884.0,1206.9 946.8,1205.5 1013.5,1201.5 1080.3,1199.8 1113.7,1198.2 1180.5,1198.2 1247.2,1199.8 1314.0,1203.2 1380.8,1205.5 1447.5,1207.5 1547.7,1210.9 1614.5,1212.2 1681.2,1212.2 1734.0,1215.2 1830.2,1214.2 1930.3,1214.2 1997.1,1210.9 2063.9,1212.2 2130.6,1215.5 2230.8,1214.9 2330.9,1212.2 2397.7,1210.9 2497.9,1207.5 2584.0,1204.3 2680.2,1204.2 2780.3,1202.2 2847.1,1198.8 2913.9,1197.5 2980.6,1197.5 3047.4,1196.5 3114.2,1190.8 3180.9,1187.5 3247.7,1185.5 3337.8,1181.5" fill="none" stroke="#1e90ff" stroke-width="2.8" stroke-linejoin="round" stroke-linecap="round" shape-rendering="crispEdges"/>
<polyline points="48.4,1203.2 113.5,1206.5 196.9,1208.2 297.1,1208.9 363.9,1207.5 464.0,1205.5 530.8,1206.5 630.9,1208.2 697.7,1205.5 797.9,1207.2 884.0,1207.2 913.4,1208.9 1046.9,1207.5 1113.7,1205.5 1213.9,1205.5 1314.0,1206.5 1380.8,1208.2 1547.7,1208.9 1647.9,1208.9 1734.0,1214.9 1790.1,1206.5 1830.2,1205.5 1896.9,1208.9 2063.9,1210.9 2164.0,1210.9 2230.8,1211.5 2397.7,1210.9 2584.0,1211.2 2680.2,1211.5 2780.3,1211.5 2847.1,1207.5 2913.9,1205.5 2980.6,1201.5 3047.4,1199.2 3114.2,1195.5 3180.9,1193.2 3247.7,1190.8 3337.8,1188.2" fill="none" stroke="#ff7f27" stroke-width="2.8" stroke-linejoin="round" stroke-linecap="round" shape-rendering="crispEdges"/>
<polyline points="48.4,1191.8 297.1,1191.8 323.8,1194.2 464.0,1193.5 480.7,1191.5 884.0,1191.5 996.8,1191.5 1013.5,1194.2 1113.7,1194.2 1213.9,1195.5 1314.0,1198.2 1414.2,1201.5 1480.9,1204.8 1547.7,1206.5 1647.9,1206.5 1734.0,1208.9 2584.0,1209.5 2680.2,1209.2 2780.3,1208.9 2847.1,1207.5 2913.9,1205.5 3014.0,1204.8 3114.2,1202.5 3247.7,1200.2 3337.8,1197.5" fill="none" stroke="#000" stroke-width="2.8" stroke-linejoin="round" stroke-linecap="round" shape-rendering="crispEdges"/>
<text x="36.0" y="1113.5" font-size="18.3" fill="#c5212f" textLength="148.8" lengthAdjust="spacingAndGlyphs">成交金额: 3315亿</text>
<text x="189.2" y="1115.0" font-size="23" fill="#00d8e8" text-anchor="middle" style='font-family:"DejaVu Sans","Liberation Sans",sans-serif' transform="translate(189.2 0) scale(0.72 1) translate(-189.2 0)">↓</text>
<text x="202.0" y="1113.5" font-size="18.3" fill="#14d814" textLength="127.3" lengthAdjust="spacingAndGlyphs">MA10: 3280亿</text>
<text x="333.8" y="1115.0" font-size="23" fill="#00d8e8" text-anchor="middle" style='font-family:"DejaVu Sans","Liberation Sans",sans-serif' transform="translate(333.8 0) scale(0.72 1) translate(-333.8 0)">↓</text>
<text x="345.5" y="1113.5" font-size="18.3" fill="#00d8e8" textLength="127.4" lengthAdjust="spacingAndGlyphs">MA20: 3080亿</text>
<text x="477.3" y="1115.0" font-size="23" fill="#ff3232" text-anchor="middle" style='font-family:"DejaVu Sans","Liberation Sans",sans-serif' transform="translate(477.3 0) scale(0.72 1) translate(-477.3 0)">↑</text>
<text x="490.0" y="1113.5" font-size="18.3" fill="#1e90ff" textLength="127.2" lengthAdjust="spacingAndGlyphs">MA40: 2719亿</text>
<text x="621.7" y="1115.0" font-size="23" fill="#ff3232" text-anchor="middle" style='font-family:"DejaVu Sans","Liberation Sans",sans-serif' transform="translate(621.7 0) scale(0.72 1) translate(-621.7 0)">↑</text>
<text x="633.7" y="1113.5" font-size="18.3" fill="#ff7f27" textLength="127.4" lengthAdjust="spacingAndGlyphs">MA60: 2576亿</text>
<text x="765.6" y="1115.0" font-size="23" fill="#ff3232" text-anchor="middle" style='font-family:"DejaVu Sans","Liberation Sans",sans-serif' transform="translate(765.6 0) scale(0.72 1) translate(-765.6 0)">↑</text>
<text x="778.0" y="1113.5" font-size="18.3" fill="#000" textLength="135.9" lengthAdjust="spacingAndGlyphs">MA120: 2392亿</text>
<text x="918.4" y="1115.0" font-size="23" fill="#ff3232" text-anchor="middle" style='font-family:"DejaVu Sans","Liberation Sans",sans-serif' transform="translate(918.4 0) scale(0.72 1) translate(-918.4 0)">↑</text>
<rect x="3221" y="1092" width="163.4" height="30.5" fill="#000"/>
<text x="3302.0" y="1115.0" font-size="19" fill="#4d4d4d" text-anchor="middle">金额</text>
<path d="M3363.5,1104 h9.6 l-4.8,7.4 Z" fill="#d0d0d0"/>
<line x1="36" y1="1349.5" x2="3382" y2="1349.5" stroke="#5a5a5a" stroke-width="1" stroke-dasharray="1 3 1 4"/>
<text x="3460.5" y="1356.4" font-size="19.5" fill="#c5212f" text-anchor="end">+93.09</text>
<line x1="36" y1="1416.5" x2="3382" y2="1416.5" stroke="#5a5a5a" stroke-width="1" stroke-dasharray="1 3 1 4"/>
<text x="3460.5" y="1423.2" font-size="19.5" fill="#c5212f" text-anchor="end">+63.34</text>
<line x1="36" y1="1484.5" x2="3382" y2="1484.5" stroke="#5a5a5a" stroke-width="1" stroke-dasharray="1 3 1 4"/>
<text x="3460.5" y="1491.0" font-size="19.5" fill="#c5212f" text-anchor="end">+33.59</text>
<polyline points="48.4,1544.7 73.9,1545.7 99.4,1541.3 124.9,1536.3 150.4,1528.0 175.9,1516.3 201.4,1505.6 226.9,1500.6 252.4,1497.3 277.9,1496.3 303.4,1502.3 328.9,1508.6 354.4,1511.3 379.9,1515.3 405.4,1521.3 430.9,1527.0 456.4,1524.7 481.9,1515.6 507.4,1506.3 532.9,1490.3 558.4,1471.2 583.9,1454.5 609.4,1445.5 634.9,1440.5 660.4,1431.8 685.9,1423.5 711.4,1407.8 736.9,1396.1 762.4,1388.8 787.9,1382.8 813.4,1382.8 838.9,1383.8 864.4,1385.1 889.9,1388.4 915.4,1389.4 940.9,1395.1 966.4,1392.1 991.9,1386.1 1017.4,1382.8 1042.9,1382.1 1068.4,1376.1 1093.9,1370.4 1119.4,1365.4 1144.9,1364.4 1170.4,1359.4 1195.9,1357.7 1221.4,1359.4 1246.9,1361.1 1272.4,1361.7 1297.9,1362.7 1323.4,1368.4 1348.9,1379.4 1374.4,1392.8 1399.9,1404.5 1425.4,1416.2 1450.9,1427.8 1476.4,1437.9 1501.9,1446.2 1527.4,1457.2 1552.9,1464.6 1578.4,1467.9 1603.9,1467.2 1629.4,1457.9 1654.9,1442.9 1680.4,1424.5 1705.9,1406.8 1731.4,1394.1 1756.9,1386.1 1782.4,1375.1 1807.9,1368.4 1833.4,1364.4 1858.9,1361.7 1884.4,1358.4 1909.9,1355.4 1935.4,1355.4 1960.9,1358.7 1986.4,1361.7 2011.9,1364.4 2037.4,1368.4 2062.9,1376.8 2088.4,1387.8 2113.9,1400.5 2139.4,1410.1 2164.9,1420.2 2190.4,1426.2 2215.9,1430.5 2241.4,1434.5 2266.9,1442.9 2292.4,1460.2 2317.9,1466.9 2343.4,1469.6 2368.9,1472.2 2394.4,1475.6 2419.9,1482.3 2445.4,1492.9 2470.9,1499.0 2496.4,1494.6 2521.9,1483.9 2547.4,1467.9 2572.9,1457.9 2598.4,1458.9 2623.9,1466.9 2649.4,1478.6 2674.9,1491.3 2700.4,1500.3 2725.9,1505.3 2751.4,1509.6 2776.9,1517.3 2802.4,1521.3 2827.9,1527.3 2853.4,1527.3 2878.9,1523.7 2904.4,1511.3 2929.9,1499.6 2955.4,1492.9 2980.9,1488.6 3006.4,1485.6 3031.9,1479.6 3057.4,1470.2 3082.9,1454.5 3108.4,1434.5 3133.9,1415.2 3159.4,1397.8 3184.9,1388.8 3210.4,1380.4 3235.9,1376.8 3261.4,1377.8 3286.9,1377.8 3312.4,1373.4 3337.9,1367.7" fill="none" stroke="#00e0f0" stroke-width="2.9" stroke-linejoin="round" stroke-linecap="round" shape-rendering="crispEdges"/>
<polyline points="48.4,1550.7 73.9,1548.0 99.4,1532.3 124.9,1527.0 150.4,1508.6 175.9,1494.6 201.4,1485.3 226.9,1487.9 252.4,1492.9 277.9,1493.9 303.4,1512.3 328.9,1520.3 354.4,1517.3 379.9,1521.3 405.4,1532.3 430.9,1539.7 456.4,1518.0 481.9,1496.9 507.4,1486.3 532.9,1457.9 558.4,1432.8 583.9,1423.8 609.4,1423.8 634.9,1431.8 660.4,1415.2 685.9,1403.5 711.4,1380.1 736.9,1373.4 762.4,1370.1 787.9,1373.4 813.4,1380.1 838.9,1386.1 864.4,1388.4 889.9,1394.5 915.4,1392.1 940.9,1403.5 966.4,1387.8 991.9,1376.8 1017.4,1374.4 1042.9,1379.4 1068.4,1364.4 1093.9,1358.4 1119.4,1357.7 1144.9,1359.4 1170.4,1350.1 1195.9,1356.1 1221.4,1361.1 1246.9,1362.7 1272.4,1364.4 1297.9,1365.1 1323.4,1379.4 1348.9,1403.5 1374.4,1418.8 1399.9,1428.5 1425.4,1436.9 1450.9,1452.2 1476.4,1457.2 1501.9,1465.6 1527.4,1476.2 1552.9,1479.6 1578.4,1473.6 1603.9,1469.6 1629.4,1434.5 1654.9,1410.1 1680.4,1387.8 1705.9,1373.4 1731.4,1369.8 1756.9,1365.4 1782.4,1355.4 1807.9,1355.4 1833.4,1355.4 1858.9,1356.1 1884.4,1352.7 1909.9,1349.4 1935.4,1352.7 1960.9,1365.4 1986.4,1367.7 2011.9,1370.4 2037.4,1378.8 2062.9,1394.5 2088.4,1406.8 2113.9,1422.2 2139.4,1427.2 2164.9,1439.5 2190.4,1439.5 2215.9,1439.5 2241.4,1442.9 2266.9,1460.6 2292.4,1492.9 2317.9,1482.3 2343.4,1472.2 2368.9,1478.6 2394.4,1481.3 2419.9,1498.6 2445.4,1514.3 2470.9,1512.0 2496.4,1486.3 2521.9,1461.2 2547.4,1437.2 2572.9,1433.8 2598.4,1458.9 2623.9,1481.9 2649.4,1499.0 2674.9,1520.3 2700.4,1515.6 2725.9,1517.3 2751.4,1517.3 2776.9,1530.3 2802.4,1532.3 2827.9,1539.7 2853.4,1528.0 2878.9,1514.6 2904.4,1490.3 2929.9,1478.6 2955.4,1476.2 2980.9,1478.9 3006.4,1479.6 3031.9,1466.2 3057.4,1451.9 3082.9,1423.5 3108.4,1395.1 3133.9,1377.1 3159.4,1365.4 3184.9,1364.4 3210.4,1365.4 3235.9,1367.7 3261.4,1380.1 3286.9,1379.4 3312.4,1364.4 3337.9,1356.1" fill="none" stroke="#ff3232" stroke-width="2.9" stroke-linejoin="round" stroke-linecap="round" shape-rendering="crispEdges"/>
<text x="36.0" y="1340" font-size="18.3" fill="#ff3232" textLength="97.5" lengthAdjust="spacingAndGlyphs">KDJ(20,3,3)</text>
<text x="141.9" y="1340" font-size="18.3" fill="#ff3232" textLength="83.9" lengthAdjust="spacingAndGlyphs">K: +89.51</text>
<text x="230.2" y="1341.5" font-size="23" fill="#ff3232" text-anchor="middle" style='font-family:"DejaVu Sans","Liberation Sans",sans-serif' transform="translate(230.2 0) scale(0.72 1) translate(-230.2 0)">↑</text>
<text x="243.7" y="1340" font-size="18.3" fill="#00d8e8" textLength="87.3" lengthAdjust="spacingAndGlyphs">D: +84.31</text>
<text x="335.4" y="1341.5" font-size="23" fill="#ff3232" text-anchor="middle" style='font-family:"DejaVu Sans","Liberation Sans",sans-serif' transform="translate(335.4 0) scale(0.72 1) translate(-335.4 0)">↑</text>
<rect x="3284.5" y="1319" width="100" height="29.5" fill="#000"/>
<line x1="3284.5" y1="1347.6" x2="3384" y2="1347.6" stroke="#8a8a8a" stroke-width="1.2"/>
<text x="3334.0" y="1341.0" font-size="19.5" fill="#4d4d4d" text-anchor="middle">指标说明</text>
<line x1="36" y1="1583.5" x2="3382" y2="1583.5" stroke="#5a5a5a" stroke-width="1" stroke-dasharray="1 3 1 4"/>
<text x="3387.5" y="1590.4" font-size="19.2" fill="#c5212f">+68.21</text>
<line x1="36" y1="1637.5" x2="3382" y2="1637.5" stroke="#5a5a5a" stroke-width="1" stroke-dasharray="1 3 1 4"/>
<text x="3387.5" y="1644.5" font-size="19.2" fill="#c5212f">+37.31</text>
<line x1="36" y1="1701.5" x2="3382" y2="1701.5" stroke="#5a5a5a" stroke-width="1" stroke-dasharray="1 3 1 4"/>
<text x="3387.5" y="1708.9" font-size="19.2" fill="#c5212f">+0</text>
<line x1="36" y1="1766.5" x2="3382" y2="1766.5" stroke="#5a5a5a" stroke-width="1" stroke-dasharray="1 3 1 4"/>
<text x="3389.0" y="1773.4" font-size="19.2" fill="#1b911b">-36.52</text>
<line x1="36" y1="1832.5" x2="3382" y2="1832.5" stroke="#5a5a5a" stroke-width="1" stroke-dasharray="1 3 1 4"/>
<text x="3389.0" y="1839.1" font-size="19.2" fill="#1b911b">-74.29</text>
<g shape-rendering="crispEdges">
<rect x="46.9" y="1701.9" width="3" height="42.4" fill="#1b911b"/>
<rect x="72.4" y="1701.9" width="3" height="44.4" fill="#1b911b"/>
<rect x="97.9" y="1701.9" width="3" height="24.4" fill="#1b911b"/>
<rect x="123.4" y="1701.9" width="3" height="17.4" fill="#1b911b"/>
<rect x="148.9" y="1685.9" width="3" height="16.0" fill="#b8141e"/>
<rect x="174.4" y="1665.2" width="3" height="36.7" fill="#b8141e"/>
<rect x="199.9" y="1655.2" width="3" height="46.7" fill="#b8141e"/>
<rect x="225.4" y="1661.8" width="3" height="40.1" fill="#b8141e"/>
<rect x="250.9" y="1672.9" width="3" height="29.0" fill="#b8141e"/>
<rect x="276.4" y="1679.5" width="3" height="22.4" fill="#b8141e"/>
<rect x="301.9" y="1701.9" width="3" height="11.7" fill="#1b911b"/>
<rect x="327.4" y="1701.9" width="3" height="26.0" fill="#1b911b"/>
<rect x="352.9" y="1701.9" width="3" height="24.0" fill="#1b911b"/>
<rect x="378.4" y="1701.9" width="3" height="24.0" fill="#1b911b"/>
<rect x="403.9" y="1701.9" width="3" height="42.4" fill="#1b911b"/>
<rect x="429.4" y="1701.9" width="3" height="56.8" fill="#1b911b"/>
<rect x="454.9" y="1701.9" width="3" height="26.0" fill="#1b911b"/>
<rect x="480.4" y="1694.2" width="3" height="7.7" fill="#b8141e"/>
<rect x="505.9" y="1679.2" width="3" height="22.7" fill="#b8141e"/>
<rect x="531.4" y="1637.8" width="3" height="64.1" fill="#b8141e"/>
<rect x="556.9" y="1614.1" width="3" height="87.8" fill="#b8141e"/>
<rect x="582.4" y="1610.1" width="3" height="91.8" fill="#b8141e"/>
<rect x="607.9" y="1619.1" width="3" height="82.8" fill="#b8141e"/>
<rect x="633.4" y="1635.1" width="3" height="66.8" fill="#b8141e"/>
<rect x="658.9" y="1621.8" width="3" height="80.1" fill="#b8141e"/>
<rect x="684.4" y="1615.8" width="3" height="86.1" fill="#b8141e"/>
<rect x="709.9" y="1599.1" width="3" height="102.8" fill="#b8141e"/>
<rect x="735.4" y="1604.1" width="3" height="97.8" fill="#b8141e"/>
<rect x="760.9" y="1615.8" width="3" height="86.1" fill="#b8141e"/>
<rect x="786.4" y="1631.8" width="3" height="70.1" fill="#b8141e"/>
<rect x="811.9" y="1655.2" width="3" height="46.7" fill="#b8141e"/>
<rect x="837.4" y="1669.5" width="3" height="32.4" fill="#b8141e"/>
<rect x="862.9" y="1682.5" width="3" height="19.4" fill="#b8141e"/>
<rect x="888.4" y="1693.6" width="3" height="8.3" fill="#b8141e"/>
<rect x="913.9" y="1696.9" width="3" height="5.0" fill="#b8141e"/>
<rect x="939.4" y="1701.9" width="3" height="9.0" fill="#1b911b"/>
<rect x="964.9" y="1689.5" width="3" height="12.4" fill="#b8141e"/>
<rect x="990.4" y="1676.9" width="3" height="25.0" fill="#b8141e"/>
<rect x="1015.9" y="1661.2" width="3" height="40.7" fill="#b8141e"/>
<rect x="1041.4" y="1661.8" width="3" height="40.1" fill="#b8141e"/>
<rect x="1066.9" y="1645.8" width="3" height="56.1" fill="#b8141e"/>
<rect x="1092.4" y="1636.8" width="3" height="65.1" fill="#b8141e"/>
<rect x="1117.9" y="1637.5" width="3" height="64.4" fill="#b8141e"/>
<rect x="1143.4" y="1646.1" width="3" height="55.8" fill="#b8141e"/>
<rect x="1168.9" y="1644.1" width="3" height="57.8" fill="#b8141e"/>
<rect x="1194.4" y="1660.8" width="3" height="41.1" fill="#b8141e"/>
<rect x="1219.9" y="1675.9" width="3" height="26.0" fill="#b8141e"/>
<rect x="1245.4" y="1685.9" width="3" height="16.0" fill="#b8141e"/>
<rect x="1270.9" y="1696.9" width="3" height="5.0" fill="#b8141e"/>
<rect x="1296.4" y="1701.9" width="3" height="2.7" fill="#1b911b"/>
<rect x="1321.9" y="1701.9" width="3" height="24.0" fill="#1b911b"/>
<rect x="1347.4" y="1701.9" width="3" height="52.8" fill="#1b911b"/>
<rect x="1372.9" y="1701.9" width="3" height="67.8" fill="#1b911b"/>
<rect x="1398.4" y="1701.9" width="3" height="71.8" fill="#1b911b"/>
<rect x="1423.9" y="1701.9" width="3" height="71.8" fill="#1b911b"/>
<rect x="1449.4" y="1701.9" width="3" height="65.8" fill="#1b911b"/>
<rect x="1474.9" y="1701.9" width="3" height="47.4" fill="#1b911b"/>
<rect x="1500.4" y="1701.9" width="3" height="38.4" fill="#1b911b"/>
<rect x="1525.9" y="1701.9" width="3" height="32.7" fill="#1b911b"/>
<rect x="1551.4" y="1701.9" width="3" height="26.0" fill="#1b911b"/>
<rect x="1576.9" y="1701.9" width="3" height="15.0" fill="#1b911b"/>
<rect x="1602.4" y="1701.9" width="3" height="8.3" fill="#1b911b"/>
<rect x="1627.9" y="1686.9" width="3" height="15.0" fill="#b8141e"/>
<rect x="1653.4" y="1669.5" width="3" height="32.4" fill="#b8141e"/>
<rect x="1678.9" y="1655.2" width="3" height="46.7" fill="#b8141e"/>
<rect x="1704.4" y="1650.2" width="3" height="51.7" fill="#b8141e"/>
<rect x="1729.9" y="1649.5" width="3" height="52.4" fill="#b8141e"/>
<rect x="1755.4" y="1655.2" width="3" height="46.7" fill="#b8141e"/>
<rect x="1780.9" y="1646.8" width="3" height="55.1" fill="#b8141e"/>
<rect x="1806.4" y="1630.8" width="3" height="71.1" fill="#b8141e"/>
<rect x="1831.9" y="1629.1" width="3" height="72.8" fill="#b8141e"/>
<rect x="1857.4" y="1635.1" width="3" height="66.8" fill="#b8141e"/>
<rect x="1882.9" y="1637.8" width="3" height="64.1" fill="#b8141e"/>
<rect x="1908.4" y="1640.8" width="3" height="61.1" fill="#b8141e"/>
<rect x="1933.9" y="1644.1" width="3" height="57.8" fill="#b8141e"/>
<rect x="1959.4" y="1661.8" width="3" height="40.1" fill="#b8141e"/>
<rect x="1984.9" y="1669.5" width="3" height="32.4" fill="#b8141e"/>
<rect x="2010.4" y="1681.9" width="3" height="20.0" fill="#b8141e"/>
<rect x="2035.9" y="1701.9" width="3" height="1.0" fill="#1b911b"/>
<rect x="2061.4" y="1701.9" width="3" height="30.0" fill="#1b911b"/>
<rect x="2086.9" y="1701.9" width="3" height="45.1" fill="#1b911b"/>
<rect x="2112.4" y="1701.9" width="3" height="59.1" fill="#1b911b"/>
<rect x="2137.9" y="1701.9" width="3" height="50.7" fill="#1b911b"/>
<rect x="2163.4" y="1701.9" width="3" height="52.8" fill="#1b911b"/>
<rect x="2188.9" y="1701.9" width="3" height="41.7" fill="#1b911b"/>
<rect x="2214.4" y="1701.9" width="3" height="35.1" fill="#1b911b"/>
<rect x="2239.9" y="1701.9" width="3" height="35.1" fill="#1b911b"/>
<rect x="2265.4" y="1701.9" width="3" height="41.7" fill="#1b911b"/>
<rect x="2290.9" y="1701.9" width="3" height="59.1" fill="#1b911b"/>
<rect x="2316.4" y="1701.9" width="3" height="41.7" fill="#1b911b"/>
<rect x="2341.9" y="1701.9" width="3" height="26.7" fill="#1b911b"/>
<rect x="2367.4" y="1701.9" width="3" height="26.7" fill="#1b911b"/>
<rect x="2392.9" y="1701.9" width="3" height="26.7" fill="#1b911b"/>
<rect x="2418.4" y="1701.9" width="3" height="35.7" fill="#1b911b"/>
<rect x="2443.9" y="1701.9" width="3" height="44.1" fill="#1b911b"/>
<rect x="2469.4" y="1701.9" width="3" height="41.1" fill="#1b911b"/>
<rect x="2494.9" y="1701.9" width="3" height="21.0" fill="#1b911b"/>
<rect x="2520.4" y="1701.9" width="3" height="11.7" fill="#1b911b"/>
<rect x="2545.9" y="1701.9" width="3" height="1.7" fill="#1b911b"/>
<rect x="2571.4" y="1701.9" width="3" height="1.7" fill="#1b911b"/>
<rect x="2596.9" y="1701.9" width="3" height="16.7" fill="#1b911b"/>
<rect x="2622.4" y="1701.9" width="3" height="26.7" fill="#1b911b"/>
<rect x="2647.9" y="1701.9" width="3" height="35.7" fill="#1b911b"/>
<rect x="2673.4" y="1701.9" width="3" height="50.7" fill="#1b911b"/>
<rect x="2698.9" y="1701.9" width="3" height="46.7" fill="#1b911b"/>
<rect x="2724.4" y="1701.9" width="3" height="44.4" fill="#1b911b"/>
<rect x="2749.9" y="1701.9" width="3" height="41.7" fill="#1b911b"/>
<rect x="2775.4" y="1701.9" width="3" height="46.7" fill="#1b911b"/>
<rect x="2800.9" y="1701.9" width="3" height="41.7" fill="#1b911b"/>
<rect x="2826.4" y="1701.9" width="3" height="39.1" fill="#1b911b"/>
<rect x="2851.9" y="1701.9" width="3" height="24.0" fill="#1b911b"/>
<rect x="2877.4" y="1701.9" width="3" height="7.7" fill="#1b911b"/>
<rect x="2902.9" y="1687.9" width="3" height="14.0" fill="#b8141e"/>
<rect x="2928.4" y="1676.9" width="3" height="25.0" fill="#b8141e"/>
<rect x="2953.9" y="1676.2" width="3" height="25.7" fill="#b8141e"/>
<rect x="2979.4" y="1679.2" width="3" height="22.7" fill="#b8141e"/>
<rect x="3004.9" y="1679.2" width="3" height="22.7" fill="#b8141e"/>
<rect x="3030.4" y="1670.9" width="3" height="31.0" fill="#b8141e"/>
<rect x="3055.9" y="1665.2" width="3" height="36.7" fill="#b8141e"/>
<rect x="3081.4" y="1655.2" width="3" height="46.7" fill="#b8141e"/>
<rect x="3106.9" y="1646.8" width="3" height="55.1" fill="#b8141e"/>
<rect x="3132.4" y="1646.8" width="3" height="55.1" fill="#b8141e"/>
<rect x="3157.9" y="1644.1" width="3" height="57.8" fill="#b8141e"/>
<rect x="3183.4" y="1650.2" width="3" height="51.7" fill="#b8141e"/>
<rect x="3208.9" y="1659.2" width="3" height="42.7" fill="#b8141e"/>
<rect x="3234.4" y="1668.5" width="3" height="33.4" fill="#b8141e"/>
<rect x="3259.9" y="1683.5" width="3" height="18.4" fill="#b8141e"/>
<rect x="3285.4" y="1687.9" width="3" height="14.0" fill="#b8141e"/>
<rect x="3310.9" y="1679.2" width="3" height="22.7" fill="#b8141e"/>
<rect x="3336.4" y="1670.9" width="3" height="31.0" fill="#b8141e"/>
</g>
<polyline points="48.4,1802.7 73.9,1808.1 99.4,1811.4 124.9,1812.7 150.4,1811.4 175.9,1806.4 201.4,1800.4 226.9,1796.4 252.4,1793.0 277.9,1790.4 303.4,1792.0 328.9,1795.4 354.4,1798.1 379.9,1800.4 405.4,1806.4 430.9,1814.7 456.4,1817.7 481.9,1816.1 507.4,1812.7 532.9,1805.4 558.4,1794.7 583.9,1785.4 609.4,1774.3 634.9,1765.3 660.4,1755.3 685.9,1746.0 711.4,1733.0 736.9,1720.9 762.4,1710.2 787.9,1701.9 813.4,1695.9 838.9,1691.9 864.4,1688.5 889.9,1687.5 915.4,1687.5 940.9,1688.5 966.4,1688.5 991.9,1686.2 1017.4,1680.2 1042.9,1675.2 1068.4,1668.5 1093.9,1659.5 1119.4,1652.8 1144.9,1645.1 1170.4,1638.5 1195.9,1632.8 1221.4,1629.5 1246.9,1628.5 1272.4,1628.5 1297.9,1629.1 1323.4,1631.8 1348.9,1638.5 1374.4,1646.8 1399.9,1656.2 1425.4,1665.2 1450.9,1673.5 1476.4,1679.5 1501.9,1683.5 1527.4,1687.9 1552.9,1691.2 1578.4,1694.2 1603.9,1694.6 1629.4,1692.9 1654.9,1688.5 1680.4,1683.5 1705.9,1676.2 1731.4,1669.2 1756.9,1664.2 1782.4,1657.8 1807.9,1649.2 1833.4,1640.1 1858.9,1631.8 1884.4,1625.1 1909.9,1617.8 1935.4,1610.8 1960.9,1605.8 1986.4,1601.7 2011.9,1599.4 2037.4,1600.1 2062.9,1602.7 2088.4,1609.4 2113.9,1616.8 2139.4,1622.8 2164.9,1629.5 2190.4,1634.1 2215.9,1638.5 2241.4,1643.5 2266.9,1649.2 2292.4,1656.8 2317.9,1661.8 2343.4,1665.8 2368.9,1668.5 2394.4,1671.9 2419.9,1676.9 2445.4,1682.9 2470.9,1686.9 2496.4,1689.5 2521.9,1691.9 2547.4,1692.9 2572.9,1692.9 2598.4,1694.6 2623.9,1697.6 2649.4,1701.9 2674.9,1709.6 2700.4,1715.9 2725.9,1721.3 2751.4,1725.3 2776.9,1731.9 2802.4,1737.6 2827.9,1743.0 2853.4,1745.3 2878.9,1746.3 2904.4,1743.6 2929.9,1742.0 2955.4,1738.6 2980.9,1736.0 3006.4,1733.0 3031.9,1730.3 3057.4,1725.3 3082.9,1719.6 3108.4,1712.6 3133.9,1706.2 3159.4,1697.6 3184.9,1691.9 3210.4,1688.5 3235.9,1683.5 3261.4,1680.9 3286.9,1679.2 3312.4,1676.2 3337.9,1673.5" fill="none" stroke="#00e0f0" stroke-width="2.9" stroke-linejoin="round" stroke-linecap="round" shape-rendering="crispEdges"/>
<polyline points="48.4,1823.8 73.9,1829.8 99.4,1823.8 124.9,1821.4 150.4,1804.4 175.9,1788.0 201.4,1778.7 226.9,1777.0 252.4,1779.4 277.9,1781.4 303.4,1797.7 328.9,1808.7 354.4,1811.4 379.9,1814.4 405.4,1828.1 430.9,1842.1 456.4,1831.1 481.9,1812.1 507.4,1803.1 532.9,1777.0 558.4,1752.6 583.9,1737.6 609.4,1733.6 634.9,1731.9 660.4,1716.9 685.9,1703.6 711.4,1682.5 736.9,1670.9 762.4,1667.5 787.9,1667.5 813.4,1671.9 838.9,1676.2 864.4,1679.5 889.9,1684.9 915.4,1685.2 940.9,1694.6 966.4,1681.2 991.9,1674.2 1017.4,1659.2 1042.9,1655.8 1068.4,1640.8 1093.9,1628.5 1119.4,1620.1 1144.9,1617.8 1170.4,1610.1 1195.9,1612.8 1221.4,1616.8 1246.9,1621.8 1272.4,1626.1 1297.9,1630.8 1323.4,1645.1 1348.9,1665.2 1374.4,1681.2 1399.9,1691.9 1425.4,1701.2 1450.9,1705.9 1476.4,1703.6 1501.9,1703.6 1527.4,1705.9 1552.9,1704.6 1578.4,1701.9 1603.9,1698.6 1629.4,1685.9 1654.9,1673.5 1680.4,1658.5 1705.9,1649.5 1731.4,1646.1 1756.9,1640.8 1782.4,1630.8 1807.9,1613.4 1833.4,1604.1 1858.9,1599.4 1884.4,1592.7 1909.9,1586.7 1935.4,1583.4 1960.9,1586.1 1986.4,1586.7 2011.9,1589.4 2037.4,1600.1 2062.9,1615.1 2088.4,1630.1 2113.9,1646.1 2139.4,1649.2 2164.9,1655.8 2190.4,1656.8 2215.9,1656.8 2241.4,1660.8 2266.9,1669.5 2292.4,1685.2 2317.9,1681.9 2343.4,1679.2 2368.9,1681.9 2394.4,1685.9 2419.9,1695.2 2445.4,1704.6 2470.9,1706.9 2496.4,1701.9 2521.9,1696.9 2547.4,1692.9 2572.9,1692.9 2598.4,1704.9 2623.9,1713.6 2649.4,1721.3 2674.9,1734.3 2700.4,1737.6 2725.9,1743.0 2751.4,1746.0 2776.9,1755.3 2802.4,1758.7 2827.9,1761.3 2853.4,1757.0 2878.9,1748.6 2904.4,1737.0 2929.9,1730.3 2955.4,1725.3 2980.9,1724.3 3006.4,1722.6 3031.9,1715.9 3057.4,1707.6 3082.9,1695.9 3108.4,1685.2 3133.9,1680.2 3159.4,1669.5 3184.9,1666.8 3210.4,1666.8 3235.9,1666.8 3261.4,1673.5 3286.9,1673.5 3312.4,1665.2 3337.9,1658.5" fill="none" stroke="#ff3232" stroke-width="2.9" stroke-linejoin="round" stroke-linecap="round" shape-rendering="crispEdges"/>
<text x="36.0" y="1574" font-size="18.3" fill="#c8c8c8" textLength="134.2" lengthAdjust="spacingAndGlyphs">MACD(10,20,9)</text>
<text x="178.6" y="1574" font-size="18.3" fill="#c5212f" textLength="129.7" lengthAdjust="spacingAndGlyphs">MACD: +16.62</text>
<text x="312.8" y="1575.5" font-size="23" fill="#ff3232" text-anchor="middle" style='font-family:"DejaVu Sans","Liberation Sans",sans-serif' transform="translate(312.8 0) scale(0.72 1) translate(-312.8 0)">↑</text>
<text x="326.5" y="1574" font-size="18.3" fill="#ff3232" textLength="111.4" lengthAdjust="spacingAndGlyphs">DIFF: +24.11</text>
<text x="442.3" y="1575.5" font-size="23" fill="#ff3232" text-anchor="middle" style='font-family:"DejaVu Sans","Liberation Sans",sans-serif' transform="translate(442.3 0) scale(0.72 1) translate(-442.3 0)">↑</text>
<text x="457.4" y="1574" font-size="18.3" fill="#00d8e8" textLength="108.0" lengthAdjust="spacingAndGlyphs">DEA: +15.80</text>
<text x="569.9" y="1575.5" font-size="23" fill="#ff3232" text-anchor="middle" style='font-family:"DejaVu Sans","Liberation Sans",sans-serif' transform="translate(569.9 0) scale(0.72 1) translate(-569.9 0)">↑</text>
<rect x="3284.5" y="1553" width="100" height="29.5" fill="#000"/>
<line x1="3284.5" y1="1581.6" x2="3384" y2="1581.6" stroke="#8a8a8a" stroke-width="1.2"/>
<text x="3334.0" y="1575.0" font-size="19.5" fill="#4d4d4d" text-anchor="middle">指标说明</text>
<line x1="35" y1="1843" x2="35" y2="1849" stroke="#333" stroke-width="1.4"/>
<text x="37.0" y="1864.0" font-size="18.5" fill="#000">10</text>
<line x1="456" y1="1843" x2="456" y2="1849" stroke="#333" stroke-width="1.4"/>
<text x="458.0" y="1864.0" font-size="18.5" fill="#000">11</text>
<line x1="1017" y1="1843" x2="1017" y2="1849" stroke="#333" stroke-width="1.4"/>
<text x="1019.0" y="1864.0" font-size="18.5" fill="#000">12</text>
<line x1="1578" y1="1843" x2="1578" y2="1849" stroke="#333" stroke-width="1.4"/>
<text x="1580.0" y="1864.0" font-size="18.5" fill="#000">01</text>
<line x1="1986" y1="1843" x2="1986" y2="1849" stroke="#333" stroke-width="1.4"/>
<text x="1988.0" y="1864.0" font-size="18.5" fill="#000">02</text>
<line x1="2496" y1="1843" x2="2496" y2="1849" stroke="#333" stroke-width="1.4"/>
<text x="2498.0" y="1864.0" font-size="18.5" fill="#000">03</text>
<line x1="3083.5" y1="1843" x2="3083.5" y2="1849" stroke="#333" stroke-width="1.4"/>
<text x="3085.5" y="1864.0" font-size="18.5" fill="#000">04</text>
<rect x="34.0" y="1873.6" width="49.5" height="24.6" fill="#fff" stroke="#000" stroke-width="1.5"/>
<text x="58.8" y="1893.2" font-size="19.2" fill="#111" text-anchor="middle">设置</text>
<rect x="86.0" y="1873.6" width="133.0" height="24.6" fill="#fff" stroke="#7a7a7a" stroke-width="1.5"/>
<path d="M95,1877 h33 q5.5,8.5 0,18 h-33 q-3,0 -3,-3 v-12 q0,-3 3,-3 Z" fill="#620c0c"/>
<text x="112.0" y="1891.5" font-size="14" fill="#f4e8e8" text-anchor="middle">NEW</text>
<text x="174.0" y="1893.2" font-size="19.2" fill="#333" text-anchor="middle">指标广场</text>
<rect x="220.5" y="1873.6" width="79.2" height="24.6" fill="#000" stroke="#000" stroke-width="1.5"/>
<text x="260.1" y="1893.2" font-size="19.2" fill="#fff" text-anchor="middle">MACD</text>
<rect x="301.0" y="1873.6" width="53.0" height="24.6" fill="#fff" stroke="#7a7a7a" stroke-width="1.5"/>
<text x="327.5" y="1893.2" font-size="19.2" fill="#111" text-anchor="middle">KDJ</text>
<rect x="355.0" y="1873.6" width="49.5" height="24.6" fill="#fff" stroke="#7a7a7a" stroke-width="1.5"/>
<text x="379.8" y="1893.2" font-size="19.2" fill="#111" text-anchor="middle">RSI</text>
<rect x="405.7" y="1873.6" width="67.1" height="24.6" fill="#fff" stroke="#7a7a7a" stroke-width="1.5"/>
<text x="439.2" y="1893.2" font-size="19.2" fill="#111" text-anchor="middle">BOLL</text>
<rect x="473.6" y="1873.6" width="115.4" height="24.6" fill="#fff" stroke="#7a7a7a" stroke-width="1.5"/>
<text x="531.3" y="1893.2" font-size="19.2" fill="#111" text-anchor="middle">沪深上涨数</text>
<rect x="590.0" y="1873.6" width="114.6" height="24.6" fill="#fff" stroke="#7a7a7a" stroke-width="1.5"/>
<text x="647.3" y="1893.2" font-size="19.2" fill="#111" text-anchor="middle">沪深涨停数</text>
<rect x="705.7" y="1873.6" width="57.9" height="24.6" fill="#fff" stroke="#7a7a7a" stroke-width="1.5"/>
<text x="734.7" y="1893.2" font-size="19.2" fill="#111" text-anchor="middle">主力</text>
<rect x="764.8" y="1873.6" width="67.9" height="24.6" fill="#fff" stroke="#7a7a7a" stroke-width="1.5"/>
<text x="798.8" y="1893.2" font-size="19.2" fill="#111" text-anchor="middle">W&amp;R</text>
<rect x="833.9" y="1873.6" width="59.0" height="24.6" fill="#fff" stroke="#7a7a7a" stroke-width="1.5"/>
<text x="863.4" y="1893.2" font-size="19.2" fill="#111" text-anchor="middle">DMI</text>
<rect x="894.0" y="1873.6" width="61.0" height="24.6" fill="#fff" stroke="#7a7a7a" stroke-width="1.5"/>
<text x="924.5" y="1893.2" font-size="19.2" fill="#111" text-anchor="middle">BIAS</text>
<rect x="956.0" y="1873.6" width="50.6" height="24.6" fill="#fff" stroke="#7a7a7a" stroke-width="1.5"/>
<text x="981.3" y="1893.2" font-size="19.2" fill="#111" text-anchor="middle">ASI</text>
<rect x="1007.8" y="1873.6" width="44.6" height="24.6" fill="#fff" stroke="#7a7a7a" stroke-width="1.5"/>
<text x="1030.1" y="1893.2" font-size="19.2" fill="#111" text-anchor="middle">VR</text>
<rect x="1053.6" y="1873.6" width="68.7" height="24.6" fill="#fff" stroke="#7a7a7a" stroke-width="1.5"/>
<text x="1087.9" y="1893.2" font-size="19.2" fill="#111" text-anchor="middle">ARBR</text>
<rect x="1123.4" y="1873.6" width="61.4" height="24.6" fill="#fff" stroke="#7a7a7a" stroke-width="1.5"/>
<text x="1154.1" y="1893.2" font-size="19.2" fill="#111" text-anchor="middle">DPO</text>
<rect x="1186.0" y="1873.6" width="60.5" height="24.6" fill="#fff" stroke="#7a7a7a" stroke-width="1.5"/>
<text x="1216.2" y="1893.2" font-size="19.2" fill="#111" text-anchor="middle">TRIX</text>
<rect x="1247.7" y="1873.6" width="85.0" height="24.6" fill="#fff" stroke="#7a7a7a" stroke-width="1.5"/>
<text x="1290.2" y="1893.2" font-size="19.2" fill="#111" text-anchor="middle">新DMA</text>
<rect x="1333.9" y="1873.6" width="49.6" height="24.6" fill="#fff" stroke="#7a7a7a" stroke-width="1.5"/>
<text x="1358.7" y="1893.2" font-size="19.2" fill="#111" text-anchor="middle">BBI</text>
<rect x="1384.7" y="1873.6" width="68.7" height="24.6" fill="#fff" stroke="#7a7a7a" stroke-width="1.5"/>
<text x="1419.1" y="1893.2" font-size="19.2" fill="#111" text-anchor="middle">MTM</text>
<rect x="1454.6" y="1873.6" width="59.8" height="24.6" fill="#fff" stroke="#7a7a7a" stroke-width="1.5"/>
<text x="1484.5" y="1893.2" font-size="19.2" fill="#111" text-anchor="middle">OBV</text>
<rect x="1515.5" y="1873.6" width="56.3" height="24.6" fill="#fff" stroke="#7a7a7a" stroke-width="1.5"/>
<text x="1543.7" y="1893.2" font-size="19.2" fill="#111" text-anchor="middle">SAR</text>
<rect x="1573.0" y="1873.6" width="85.8" height="24.6" fill="#fff" stroke="#7a7a7a" stroke-width="1.5"/>
<text x="1615.9" y="1893.2" font-size="19.2" fill="#111" text-anchor="middle">EXPMA</text>
<rect x="1660.0" y="1873.6" width="76.4" height="24.6" fill="#fff" stroke="#7a7a7a" stroke-width="1.5"/>
<text x="1698.2" y="1893.2" font-size="19.2" fill="#111" text-anchor="middle">陆股通</text>
<rect x="1737.6" y="1873.6" width="77.6" height="24.6" fill="#fff" stroke="#7a7a7a" stroke-width="1.5"/>
<text x="1776.4" y="1893.2" font-size="19.2" fill="#111" text-anchor="middle">沪股通</text>
<rect x="1816.4" y="1873.6" width="77.2" height="24.6" fill="#fff" stroke="#7a7a7a" stroke-width="1.5"/>
<text x="1855.0" y="1893.2" font-size="19.2" fill="#111" text-anchor="middle">深股通</text>
<line x1="34" y1="1900" x2="3463" y2="1900" stroke="#6a6a6a" stroke-width="2.6"/>
<rect x="34" y="1902" width="98" height="30" fill="#fff" stroke="#5a5a5a" stroke-width="1.6"/>
<text x="83.0" y="1923.2" font-size="19.2" fill="#111" text-anchor="middle">股市直播</text>
<rect x="133" y="1902" width="97" height="30" fill="#fff" stroke="#5a5a5a" stroke-width="1.6"/>
<text x="181.5" y="1923.2" font-size="19.2" fill="#111" text-anchor="middle">投资机会</text>
<rect x="231" y="1902" width="98" height="30" fill="#fff" stroke="#5a5a5a" stroke-width="1.6"/>
<text x="280.0" y="1923.2" font-size="19.2" fill="#111" text-anchor="middle">高手观点</text>
<path d="M3424,1907.5 h17 M3432.5,1924 v-9 h-5.5 l5.5,-6 l5.5,6 h-5.5" fill="#333" stroke="#333" stroke-width="2.2"/>
<text x="3646" y="39" fill="#1e9db0" text-anchor="middle" font-size="35">沪深<tspan font-size="37.2">300 000300</tspan></text>
<text x="3556.5" y="82.0" font-size="39.3" fill="#000" text-anchor="middle">4162.03</text>
<text x="3726.5" y="84.0" font-size="21.6" fill="#000" text-anchor="end">+0.00</text>
<text x="3831.0" y="84.0" font-size="21.6" fill="#000" text-anchor="end">+0.00%</text>
<line x1="3464" y1="96.7" x2="3840" y2="96.7" stroke="#000" stroke-width="2"/>
<line x1="3464" y1="146.8" x2="3840" y2="146.8" stroke="#000" stroke-width="1.6"/>
<line x1="3464" y1="437" x2="3840" y2="437" stroke="#000" stroke-width="1.4"/>
<line x1="3464" y1="535" x2="3840" y2="535" stroke="#000" stroke-width="2"/>
<line x1="3654" y1="535" x2="3654" y2="803" stroke="#000" stroke-width="2"/>
<line x1="3464" y1="803.3" x2="3840" y2="803.3" stroke="#000" stroke-width="1.4"/>
<text x="3467.0" y="129.0" font-size="20.3" fill="#000">委比</text>
<text x="3650.0" y="129.0" font-size="21.2" fill="#1b911b" text-anchor="end">-44.76%</text>
<text x="3838.0" y="129.0" font-size="21.2" fill="#1b911b" text-anchor="end">-21183360</text>
<text x="3467.0" y="178.5" font-size="20.3" fill="#000">最新</text>
<text x="3649.5" y="178.5" font-size="21.2" fill="#000" text-anchor="end">4162.03</text>
<text x="3655.5" y="178.5" font-size="20.3" fill="#000">昨收</text>
<text x="3838.0" y="178.5" font-size="21.2" fill="#000" text-anchor="end">4162.03</text>
<text x="3467.0" y="227.0" font-size="20.3" fill="#000">涨跌</text>
<text x="3649.5" y="227.0" font-size="21.2" fill="#000" text-anchor="end">+0.00</text>
<text x="3655.5" y="227.0" font-size="20.3" fill="#000">开盘</text>
<text x="3838.0" y="227.0" font-size="21.2" fill="#1b911b" text-anchor="end">4139.31</text>
<text x="3467.0" y="276.0" font-size="20.3" fill="#000">涨幅</text>
<text x="3649.5" y="276.0" font-size="21.2" fill="#000" text-anchor="end">+0.00%</text>
<text x="3655.5" y="276.0" font-size="20.3" fill="#000">最高</text>
<text x="3838.0" y="276.0" font-size="21.2" fill="#c5212f" text-anchor="end">4169.67</text>
<text x="3467.0" y="323.5" font-size="20.3" fill="#000">振幅</text>
<text x="3649.5" y="323.5" font-size="21.2" fill="#1a8a9c" text-anchor="end">0.75%</text>
<text x="3655.5" y="323.5" font-size="20.3" fill="#000">最低</text>
<text x="3838.0" y="323.5" font-size="21.2" fill="#1b911b" text-anchor="end">4138.46</text>
<text x="3467.0" y="372.0" font-size="20.3" fill="#000">现手</text>
<text x="3649.5" y="372.0" font-size="21.2" fill="#1a8a9c" text-anchor="end">42190</text>
<text x="3655.5" y="372.0" font-size="20.3" fill="#000">量比</text>
<text x="3838.0" y="372.0" font-size="21.2" fill="#c5212f" text-anchor="end">1.04</text>
<text x="3467.0" y="421.0" font-size="20.3" fill="#000">总手</text>
<text x="3649.5" y="421.0" font-size="21.2" fill="#000" text-anchor="end">17018万</text>
<text x="3655.5" y="421.0" font-size="20.3" fill="#000">金额</text>
<text x="3838.0" y="421.0" font-size="21.2" fill="#1a8a9c" text-anchor="end">0亿</text>
<text x="3467.0" y="462.6" font-size="20.3" fill="#000">总市值</text>
<text x="3838.0" y="462.6" font-size="21.2" fill="#1a8a9c" text-anchor="end">520315亿</text>
<text x="3467.0" y="495.0" font-size="20.3" fill="#000">流通市值</text>
<text x="3838.0" y="495.0" font-size="21.2" fill="#1a8a9c" text-anchor="end">398678亿</text>
<text x="3467.0" y="527.0" font-size="20.3" fill="#000">两市成交额(沪市+深市)</text>
<text x="3838.0" y="527.0" font-size="21.2" fill="#1a8a9c" text-anchor="end">0亿</text>
<text x="3467.0" y="566.8" font-size="20.3" fill="#000">委卖量</text>
<text x="3649.5" y="566.8" font-size="21.2" fill="#1b911b" text-anchor="end">3426万</text>
<text x="3655.5" y="566.8" font-size="20.3" fill="#000">上涨家数</text>
<text x="3838.0" y="566.8" font-size="21.2" fill="#c5212f" text-anchor="end">139</text>
<text x="3467.0" y="611.0" font-size="20.3" fill="#000">委买量</text>
<text x="3649.5" y="611.0" font-size="21.2" fill="#c5212f" text-anchor="end">1307万</text>
<text x="3655.5" y="611.0" font-size="20.3" fill="#000">平盘家数</text>
<text x="3838.0" y="611.0" font-size="21.2" fill="#1a8a9c" text-anchor="end">8</text>
<text x="3467.0" y="655.7" font-size="20.3" fill="#000">卖金额</text>
<text x="3649.5" y="655.7" font-size="21.2" fill="#1a8a9c" text-anchor="end">49.80亿</text>
<text x="3655.5" y="655.7" font-size="20.3" fill="#000">下跌家数</text>
<text x="3838.0" y="655.7" font-size="21.2" fill="#1b911b" text-anchor="end">153</text>
<text x="3467.0" y="700.0" font-size="20.3" fill="#000">买金额</text>
<text x="3649.5" y="700.0" font-size="21.2" fill="#1a8a9c" text-anchor="end">31.75亿</text>
<text x="3655.5" y="700.0" font-size="20.3" fill="#000">市盈</text>
<text x="3838.0" y="700.0" font-size="21.2" fill="#000" text-anchor="end">13.06</text>
<text x="3467.0" y="744.6" font-size="20.3" fill="#000">换手</text>
<text x="3649.5" y="744.6" font-size="21.2" fill="#1a8a9c" text-anchor="end">0.58%</text>
<text x="3655.5" y="744.6" font-size="20.3" fill="#000">市盈(动)</text>
<text x="3838.0" y="744.6" font-size="21.2" fill="#000" text-anchor="end">11.91</text>
<text x="3467.0" y="789.0" font-size="20.3" fill="#000">均价</text>
<text x="3649.5" y="789.0" font-size="21.2" fill="#000" text-anchor="end">--</text>
<text x="3655.5" y="789.0" font-size="20.3" fill="#000">市净率</text>
<text x="3838.0" y="789.0" font-size="21.2" fill="#000" text-anchor="end">1.33</text>
<text x="3467.0" y="860.0" font-size="21.5" fill="#000">现价</text>
<text x="3649.0" y="860.0" font-size="23" fill="#000" text-anchor="end">4162.03</text>
<text x="3838.0" y="860.0" font-size="23.3" fill="#000" text-anchor="end">2023-04-18,二</text>
<line x1="3570.5" y1="905" x2="3570.5" y2="1900" stroke="#808080" stroke-width="1.3" stroke-dasharray="1.6 5"/>
<line x1="3624" y1="905" x2="3624" y2="1900" stroke="#808080" stroke-width="1.3" stroke-dasharray="1.6 5"/>
<line x1="3679" y1="905" x2="3679" y2="1900" stroke="#808080" stroke-width="1.3" stroke-dasharray="1.6 5"/>
<line x1="3735" y1="905" x2="3735" y2="1900" stroke="#808080" stroke-width="1.3" stroke-dasharray="1.6 5"/>
<text x="3538.0" y="910.0" font-size="19.5" fill="#c5212f" text-anchor="end">4204</text>
<text x="3765.0" y="910.0" font-size="19.5" fill="#c5212f">1.00%</text>
<text x="3538.0" y="948.9" font-size="19.5" fill="#c5212f" text-anchor="end">4199</text>
<text x="3765.0" y="948.9" font-size="19.5" fill="#c5212f">0.89%</text>
<line x1="3541.7" y1="941.9" x2="3763" y2="941.9" stroke="#666" stroke-width="1.9"/>
<text x="3538.0" y="987.9" font-size="19.5" fill="#c5212f" text-anchor="end">4195</text>
<text x="3765.0" y="987.9" font-size="19.5" fill="#c5212f">0.78%</text>
<line x1="3541.7" y1="980.9" x2="3763" y2="980.9" stroke="#666" stroke-width="1.9"/>
<text x="3538.0" y="1026.8" font-size="19.5" fill="#c5212f" text-anchor="end">4190</text>
<text x="3765.0" y="1026.8" font-size="19.5" fill="#c5212f">0.67%</text>
<line x1="3541.7" y1="1019.8" x2="3763" y2="1019.8" stroke="#666" stroke-width="1.9"/>
<text x="3538.0" y="1065.8" font-size="19.5" fill="#c5212f" text-anchor="end">4185</text>
<text x="3765.0" y="1065.8" font-size="19.5" fill="#c5212f">0.56%</text>
<line x1="3541.7" y1="1058.8" x2="3763" y2="1058.8" stroke="#666" stroke-width="1.9"/>
<text x="3538.0" y="1104.7" font-size="19.5" fill="#c5212f" text-anchor="end">4181</text>
<text x="3765.0" y="1104.7" font-size="19.5" fill="#c5212f">0.45%</text>
<line x1="3541.7" y1="1097.7" x2="3763" y2="1097.7" stroke="#666" stroke-width="1.9"/>
<text x="3538.0" y="1143.7" font-size="19.5" fill="#c5212f" text-anchor="end">4176</text>
<text x="3765.0" y="1143.7" font-size="19.5" fill="#c5212f">0.34%</text>
<line x1="3541.7" y1="1136.7" x2="3763" y2="1136.7" stroke="#666" stroke-width="1.9"/>
<text x="3538.0" y="1182.6" font-size="19.5" fill="#c5212f" text-anchor="end">4171</text>
<text x="3765.0" y="1182.6" font-size="19.5" fill="#c5212f">0.22%</text>
<line x1="3541.7" y1="1175.6" x2="3763" y2="1175.6" stroke="#666" stroke-width="1.9"/>
<text x="3538.0" y="1221.6" font-size="19.5" fill="#c5212f" text-anchor="end">4167</text>
<text x="3765.0" y="1221.6" font-size="19.5" fill="#c5212f">0.11%</text>
<line x1="3541.7" y1="1214.6" x2="3763" y2="1214.6" stroke="#666" stroke-width="1.9"/>
<text x="3538.0" y="1260.5" font-size="19.5" fill="#000" text-anchor="end">4162</text>
<text x="3765.0" y="1260.5" font-size="19.5" fill="#000">0.00%</text>
<line x1="3541.7" y1="1253.5" x2="3763" y2="1253.5" stroke="#666" stroke-width="4.2"/>
<text x="3538.0" y="1299.4" font-size="19.5" fill="#1b911b" text-anchor="end">4158</text>
<text x="3765.0" y="1299.4" font-size="19.5" fill="#1b911b">0.10%</text>
<line x1="3541.7" y1="1290.4" x2="3763" y2="1290.4" stroke="#666" stroke-width="1.9"/>
<text x="3538.0" y="1338.4" font-size="19.5" fill="#1b911b" text-anchor="end">4153</text>
<text x="3765.0" y="1338.4" font-size="19.5" fill="#1b911b">0.22%</text>
<line x1="3541.7" y1="1329.4" x2="3763" y2="1329.4" stroke="#666" stroke-width="1.9"/>
<text x="3538.0" y="1377.3" font-size="19.5" fill="#1b911b" text-anchor="end">4148</text>
<text x="3765.0" y="1377.3" font-size="19.5" fill="#1b911b">0.33%</text>
<line x1="3541.7" y1="1368.3" x2="3763" y2="1368.3" stroke="#666" stroke-width="1.9"/>
<text x="3538.0" y="1416.3" font-size="19.5" fill="#1b911b" text-anchor="end">4144</text>
<text x="3765.0" y="1416.3" font-size="19.5" fill="#1b911b">0.44%</text>
<line x1="3541.7" y1="1407.3" x2="3763" y2="1407.3" stroke="#666" stroke-width="1.9"/>
<text x="3538.0" y="1455.2" font-size="19.5" fill="#1b911b" text-anchor="end">4139</text>
<text x="3765.0" y="1455.2" font-size="19.5" fill="#1b911b">0.55%</text>
<line x1="3541.7" y1="1446.2" x2="3763" y2="1446.2" stroke="#666" stroke-width="1.9"/>
<text x="3538.0" y="1494.2" font-size="19.5" fill="#1b911b" text-anchor="end">4134</text>
<text x="3765.0" y="1494.2" font-size="19.5" fill="#1b911b">0.66%</text>
<line x1="3541.7" y1="1485.2" x2="3763" y2="1485.2" stroke="#666" stroke-width="1.9"/>
<text x="3538.0" y="1533.1" font-size="19.5" fill="#1b911b" text-anchor="end">4130</text>
<text x="3765.0" y="1533.1" font-size="19.5" fill="#1b911b">0.77%</text>
<line x1="3541.7" y1="1524.1" x2="3763" y2="1524.1" stroke="#666" stroke-width="1.9"/>
<text x="3538.0" y="1572.1" font-size="19.5" fill="#1b911b" text-anchor="end">4125</text>
<text x="3765.0" y="1572.1" font-size="19.5" fill="#1b911b">0.88%</text>
<line x1="3541.7" y1="1563.1" x2="3763" y2="1563.1" stroke="#666" stroke-width="1.9"/>
<text x="3538.0" y="1611.0" font-size="19.5" fill="#1b911b" text-anchor="end">4120</text>
<text x="3765.0" y="1611.0" font-size="19.5" fill="#1b911b">1.00%</text>
<line x1="3541.7" y1="1647.0" x2="3763" y2="1647.0" stroke="#666" stroke-width="1.9"/>
<text x="3538.0" y="1654.0" font-size="19.5" fill="#1a8a9c" text-anchor="end">3510</text>
<line x1="3541.7" y1="1689.0" x2="3763" y2="1689.0" stroke="#666" stroke-width="1.9"/>
<text x="3538.0" y="1696.0" font-size="19.5" fill="#1a8a9c" text-anchor="end">2925</text>
<line x1="3541.7" y1="1731.0" x2="3763" y2="1731.0" stroke="#666" stroke-width="1.9"/>
<text x="3538.0" y="1738.0" font-size="19.5" fill="#1a8a9c" text-anchor="end">2340</text>
<line x1="3541.7" y1="1773.4" x2="3763" y2="1773.4" stroke="#666" stroke-width="1.9"/>
<text x="3538.0" y="1780.4" font-size="19.5" fill="#1a8a9c" text-anchor="end">1755</text>
<line x1="3541.7" y1="1815.4" x2="3763" y2="1815.4" stroke="#666" stroke-width="1.9"/>
<text x="3538.0" y="1822.4" font-size="19.5" fill="#1a8a9c" text-anchor="end">1170</text>
<line x1="3541.7" y1="1856.8" x2="3763" y2="1856.8" stroke="#666" stroke-width="1.9"/>
<text x="3538.0" y="1863.8" font-size="19.5" fill="#1a8a9c" text-anchor="end">585</text>
<line x1="3597" y1="903" x2="3597" y2="1900" stroke="#666" stroke-width="1.9"/>
<line x1="3653" y1="903" x2="3653" y2="1900" stroke="#666" stroke-width="3.8"/>
<line x1="3707.8" y1="903" x2="3707.8" y2="1900" stroke="#666" stroke-width="1.9"/>
<line x1="3762.5" y1="1604" x2="3762.5" y2="1900" stroke="#666" stroke-width="1.9"/>
<rect x="3541.7" y="903" width="221.30000000000018" height="701" fill="none" stroke="#000" stroke-width="2.2"/>
<line x1="3541.7" y1="1604" x2="3541.7" y2="1900" stroke="#000" stroke-width="2.2"/>
<g shape-rendering="crispEdges">
<rect x="3543" y="1604" width="1" height="296" fill="#b07422"/>
<rect x="3544" y="1715" width="1" height="185" fill="#b07422"/>
<rect x="3545" y="1729" width="1" height="171" fill="#b07422"/>
<rect x="3546" y="1736" width="1" height="164" fill="#b07422"/>
<rect x="3547" y="1744" width="1" height="156" fill="#1b911b"/>
<rect x="3548" y="1751" width="1" height="149" fill="#b07422"/>
<rect x="3549" y="1754" width="1" height="146" fill="#b07422"/>
<rect x="3550" y="1749" width="1" height="151" fill="#1b911b"/>
<rect x="3551" y="1739" width="1" height="161" fill="#b07422"/>
<rect x="3552" y="1730" width="1" height="170" fill="#1b911b"/>
<rect x="3553" y="1732" width="1" height="168" fill="#1b911b"/>
<rect x="3554" y="1735" width="1" height="165" fill="#1b911b"/>
<rect x="3555" y="1739" width="1" height="161" fill="#1b911b"/>
<rect x="3556" y="1739" width="1" height="161" fill="#b07422"/>
<rect x="3557" y="1761" width="1" height="139" fill="#b07422"/>
<rect x="3558" y="1786" width="1" height="114" fill="#1b911b"/>
<rect x="3559" y="1781" width="1" height="119" fill="#b07422"/>
<rect x="3560" y="1773" width="1" height="127" fill="#b07422"/>
<rect x="3561" y="1778" width="1" height="122" fill="#b07422"/>
<rect x="3562" y="1797" width="1" height="103" fill="#b07422"/>
<rect x="3563" y="1795" width="1" height="105" fill="#1b911b"/>
<rect x="3564" y="1785" width="1" height="115" fill="#b07422"/>
<rect x="3565" y="1778" width="1" height="122" fill="#1b911b"/>
<rect x="3566" y="1777" width="1" height="123" fill="#1b911b"/>
<rect x="3567" y="1785" width="1" height="115" fill="#1b911b"/>
<rect x="3568" y="1795" width="1" height="105" fill="#1b911b"/>
<rect x="3569" y="1794" width="1" height="106" fill="#b07422"/>
<rect x="3570" y="1800" width="1" height="100" fill="#1b911b"/>
<rect x="3571" y="1815" width="1" height="85" fill="#b07422"/>
<rect x="3572" y="1831" width="1" height="69" fill="#b07422"/>
<rect x="3573" y="1832" width="1" height="68" fill="#1b911b"/>
<rect x="3574" y="1826" width="1" height="74" fill="#1b911b"/>
<rect x="3575" y="1824" width="1" height="76" fill="#1b911b"/>
<rect x="3576" y="1826" width="1" height="74" fill="#b07422"/>
<rect x="3577" y="1830" width="1" height="70" fill="#1b911b"/>
<rect x="3578" y="1831" width="1" height="69" fill="#1b911b"/>
<rect x="3579" y="1832" width="1" height="68" fill="#1b911b"/>
<rect x="3580" y="1836" width="1" height="64" fill="#1b911b"/>
<rect x="3581" y="1833" width="1" height="67" fill="#b07422"/>
<rect x="3582" y="1835" width="1" height="65" fill="#1b911b"/>
<rect x="3583" y="1837" width="1" height="63" fill="#b07422"/>
<rect x="3584" y="1851" width="1" height="49" fill="#1b911b"/>
<rect x="3585" y="1852" width="1" height="48" fill="#1b911b"/>
<rect x="3586" y="1850" width="1" height="50" fill="#1b911b"/>
<rect x="3587" y="1854" width="1" height="46" fill="#b07422"/>
<rect x="3588" y="1855" width="1" height="45" fill="#b07422"/>
<rect x="3589" y="1854" width="1" height="46" fill="#b07422"/>
<rect x="3590" y="1854" width="1" height="46" fill="#b07422"/>
<rect x="3591" y="1853" width="1" height="47" fill="#1b911b"/>
<rect x="3592" y="1856" width="1" height="44" fill="#1b911b"/>
<rect x="3593" y="1850" width="1" height="50" fill="#b07422"/>
<rect x="3594" y="1854" width="1" height="46" fill="#1b911b"/>
<rect x="3595" y="1852" width="1" height="48" fill="#b07422"/>
<rect x="3596" y="1857" width="1" height="43" fill="#b07422"/>
<rect x="3597" y="1860" width="1" height="40" fill="#b07422"/>
<rect x="3598" y="1856" width="1" height="44" fill="#b07422"/>
<rect x="3599" y="1858" width="1" height="42" fill="#1b911b"/>
<rect x="3600" y="1860" width="1" height="40" fill="#1b911b"/>
<rect x="3601" y="1857" width="1" height="43" fill="#1b911b"/>
<rect x="3602" y="1853" width="1" height="47" fill="#b07422"/>
<rect x="3603" y="1850" width="1" height="50" fill="#b07422"/>
<rect x="3604" y="1847" width="1" height="53" fill="#1b911b"/>
<rect x="3605" y="1858" width="1" height="42" fill="#b07422"/>
<rect x="3606" y="1857" width="1" height="43" fill="#b07422"/>
<rect x="3607" y="1869" width="1" height="31" fill="#b07422"/>
<rect x="3608" y="1856" width="1" height="44" fill="#b07422"/>
<rect x="3609" y="1858" width="1" height="42" fill="#1b911b"/>
<rect x="3610" y="1864" width="1" height="36" fill="#1b911b"/>
<rect x="3611" y="1862" width="1" height="38" fill="#1b911b"/>
<rect x="3612" y="1852" width="1" height="48" fill="#1b911b"/>
<rect x="3613" y="1856" width="1" height="44" fill="#b07422"/>
<rect x="3614" y="1863" width="1" height="37" fill="#b07422"/>
<rect x="3615" y="1873" width="1" height="27" fill="#1b911b"/>
<rect x="3616" y="1872" width="1" height="28" fill="#b07422"/>
<rect x="3617" y="1859" width="1" height="41" fill="#b07422"/>
<rect x="3618" y="1857" width="1" height="43" fill="#1b911b"/>
<rect x="3619" y="1867" width="1" height="33" fill="#1b911b"/>
<rect x="3620" y="1859" width="1" height="41" fill="#b07422"/>
<rect x="3621" y="1867" width="1" height="33" fill="#1b911b"/>
<rect x="3622" y="1865" width="1" height="35" fill="#1b911b"/>
<rect x="3623" y="1872" width="1" height="28" fill="#b07422"/>
<rect x="3624" y="1871" width="1" height="29" fill="#b07422"/>
<rect x="3625" y="1875" width="1" height="25" fill="#b07422"/>
<rect x="3626" y="1862" width="1" height="38" fill="#b07422"/>
<rect x="3627" y="1858" width="1" height="42" fill="#1b911b"/>
<rect x="3628" y="1865" width="1" height="35" fill="#b07422"/>
<rect x="3629" y="1862" width="1" height="38" fill="#1b911b"/>
<rect x="3630" y="1866" width="1" height="34" fill="#b07422"/>
<rect x="3631" y="1862" width="1" height="38" fill="#b07422"/>
<rect x="3632" y="1878" width="1" height="22" fill="#1b911b"/>
<rect x="3633" y="1872" width="1" height="28" fill="#1b911b"/>
<rect x="3634" y="1866" width="1" height="34" fill="#b07422"/>
<rect x="3635" y="1858" width="1" height="42" fill="#1b911b"/>
<rect x="3636" y="1870" width="1" height="30" fill="#1b911b"/>
<rect x="3637" y="1861" width="1" height="39" fill="#b07422"/>
<rect x="3638" y="1866" width="1" height="34" fill="#b07422"/>
<rect x="3639" y="1869" width="1" height="31" fill="#b07422"/>
<rect x="3640" y="1879" width="1" height="21" fill="#1b911b"/>
<rect x="3641" y="1871" width="1" height="29" fill="#1b911b"/>
<rect x="3642" y="1870" width="1" height="30" fill="#b07422"/>
<rect x="3643" y="1884" width="1" height="16" fill="#b07422"/>
<rect x="3644" y="1870" width="1" height="30" fill="#b07422"/>
<rect x="3645" y="1876" width="1" height="24" fill="#1b911b"/>
<rect x="3646" y="1882" width="1" height="18" fill="#1b911b"/>
<rect x="3647" y="1879" width="1" height="21" fill="#1b911b"/>
<rect x="3648" y="1874" width="1" height="26" fill="#b07422"/>
<rect x="3649" y="1877" width="1" height="23" fill="#1b911b"/>
<rect x="3650" y="1840" width="1" height="60" fill="#b07422"/>
<rect x="3651" y="1805" width="1" height="95" fill="#b07422"/>
<rect x="3652" y="1805" width="1" height="95" fill="#b07422"/>
<rect x="3653" y="1847" width="1" height="53" fill="#b07422"/>
<rect x="3654" y="1866" width="1" height="34" fill="#b07422"/>
<rect x="3655" y="1847" width="1" height="53" fill="#1b911b"/>
<rect x="3656" y="1854" width="1" height="46" fill="#b07422"/>
<rect x="3657" y="1845" width="1" height="55" fill="#1b911b"/>
<rect x="3658" y="1850" width="1" height="50" fill="#1b911b"/>
<rect x="3659" y="1866" width="1" height="34" fill="#1b911b"/>
<rect x="3660" y="1863" width="1" height="37" fill="#b07422"/>
<rect x="3661" y="1859" width="1" height="41" fill="#1b911b"/>
<rect x="3662" y="1861" width="1" height="39" fill="#b07422"/>
<rect x="3663" y="1849" width="1" height="51" fill="#1b911b"/>
<rect x="3664" y="1849" width="1" height="51" fill="#1b911b"/>
<rect x="3665" y="1848" width="1" height="52" fill="#1b911b"/>
<rect x="3666" y="1851" width="1" height="49" fill="#b07422"/>
<rect x="3667" y="1863" width="1" height="37" fill="#1b911b"/>
<rect x="3668" y="1856" width="1" height="44" fill="#b07422"/>
<rect x="3669" y="1862" width="1" height="38" fill="#1b911b"/>
<rect x="3670" y="1864" width="1" height="36" fill="#1b911b"/>
<rect x="3671" y="1853" width="1" height="47" fill="#1b911b"/>
<rect x="3672" y="1866" width="1" height="34" fill="#b07422"/>
<rect x="3673" y="1855" width="1" height="45" fill="#1b911b"/>
<rect x="3674" y="1857" width="1" height="43" fill="#1b911b"/>
<rect x="3675" y="1851" width="1" height="49" fill="#1b911b"/>
<rect x="3676" y="1870" width="1" height="30" fill="#b07422"/>
<rect x="3677" y="1863" width="1" height="37" fill="#b07422"/>
<rect x="3678" y="1867" width="1" height="33" fill="#b07422"/>
<rect x="3679" y="1855" width="1" height="45" fill="#b07422"/>
<rect x="3680" y="1860" width="1" height="40" fill="#1b911b"/>
<rect x="3681" y="1856" width="1" height="44" fill="#1b911b"/>
<rect x="3682" y="1857" width="1" height="43" fill="#b07422"/>
<rect x="3683" y="1850" width="1" height="50" fill="#1b911b"/>
<rect x="3684" y="1865" width="1" height="35" fill="#b07422"/>
<rect x="3685" y="1864" width="1" height="36" fill="#b07422"/>
<rect x="3686" y="1862" width="1" height="38" fill="#1b911b"/>
<rect x="3687" y="1870" width="1" height="30" fill="#1b911b"/>
<rect x="3688" y="1869" width="1" height="31" fill="#1b911b"/>
<rect x="3689" y="1870" width="1" height="30" fill="#b07422"/>
<rect x="3690" y="1864" width="1" height="36" fill="#b07422"/>
<rect x="3691" y="1876" width="1" height="24" fill="#1b911b"/>
<rect x="3692" y="1868" width="1" height="32" fill="#b07422"/>
<rect x="3693" y="1870" width="1" height="30" fill="#1b911b"/>
<rect x="3694" y="1877" width="1" height="23" fill="#b07422"/>
<rect x="3695" y="1869" width="1" height="31" fill="#1b911b"/>
<rect x="3696" y="1870" width="1" height="30" fill="#1b911b"/>
<rect x="3697" y="1866" width="1" height="34" fill="#b07422"/>
<rect x="3698" y="1862" width="1" height="38" fill="#1b911b"/>
<rect x="3699" y="1866" width="1" height="34" fill="#b07422"/>
<rect x="3700" y="1862" width="1" height="38" fill="#1b911b"/>
<rect x="3701" y="1867" width="1" height="33" fill="#1b911b"/>
<rect x="3702" y="1862" width="1" height="38" fill="#1b911b"/>
<rect x="3703" y="1858" width="1" height="42" fill="#1b911b"/>
<rect x="3704" y="1864" width="1" height="36" fill="#b07422"/>
<rect x="3705" y="1855" width="1" height="45" fill="#1b911b"/>
<rect x="3706" y="1852" width="1" height="48" fill="#b07422"/>
<rect x="3707" y="1863" width="1" height="37" fill="#b07422"/>
<rect x="3708" y="1864" width="1" height="36" fill="#1b911b"/>
<rect x="3709" y="1869" width="1" height="31" fill="#b07422"/>
<rect x="3710" y="1862" width="1" height="38" fill="#b07422"/>
<rect x="3711" y="1877" width="1" height="23" fill="#1b911b"/>
<rect x="3712" y="1863" width="1" height="37" fill="#b07422"/>
<rect x="3713" y="1861" width="1" height="39" fill="#b07422"/>
<rect x="3714" y="1863" width="1" height="37" fill="#1b911b"/>
<rect x="3715" y="1850" width="1" height="50" fill="#b07422"/>
<rect x="3716" y="1841" width="1" height="59" fill="#1b911b"/>
<rect x="3717" y="1827" width="1" height="73" fill="#b07422"/>
<rect x="3718" y="1853" width="1" height="47" fill="#1b911b"/>
<rect x="3719" y="1856" width="1" height="44" fill="#1b911b"/>
<rect x="3720" y="1866" width="1" height="34" fill="#1b911b"/>
<rect x="3721" y="1863" width="1" height="37" fill="#1b911b"/>
<rect x="3722" y="1861" width="1" height="39" fill="#b07422"/>
<rect x="3723" y="1869" width="1" height="31" fill="#b07422"/>
<rect x="3724" y="1868" width="1" height="32" fill="#b07422"/>
<rect x="3725" y="1865" width="1" height="35" fill="#b07422"/>
<rect x="3726" y="1876" width="1" height="24" fill="#1b911b"/>
<rect x="3727" y="1878" width="1" height="22" fill="#b07422"/>
<rect x="3728" y="1875" width="1" height="25" fill="#1b911b"/>
<rect x="3729" y="1873" width="1" height="27" fill="#b07422"/>
<rect x="3730" y="1874" width="1" height="26" fill="#1b911b"/>
<rect x="3731" y="1863" width="1" height="37" fill="#1b911b"/>
<rect x="3732" y="1864" width="1" height="36" fill="#b07422"/>
<rect x="3733" y="1863" width="1" height="37" fill="#b07422"/>
<rect x="3734" y="1871" width="1" height="29" fill="#1b911b"/>
<rect x="3735" y="1862" width="1" height="38" fill="#b07422"/>
<rect x="3736" y="1870" width="1" height="30" fill="#1b911b"/>
<rect x="3737" y="1859" width="1" height="41" fill="#1b911b"/>
<rect x="3738" y="1857" width="1" height="43" fill="#1b911b"/>
<rect x="3739" y="1863" width="1" height="37" fill="#b07422"/>
<rect x="3740" y="1866" width="1" height="34" fill="#b07422"/>
<rect x="3741" y="1867" width="1" height="33" fill="#b07422"/>
<rect x="3742" y="1861" width="1" height="39" fill="#1b911b"/>
<rect x="3743" y="1861" width="1" height="39" fill="#b07422"/>
<rect x="3744" y="1849" width="1" height="51" fill="#1b911b"/>
<rect x="3745" y="1860" width="1" height="40" fill="#b07422"/>
<rect x="3746" y="1861" width="1" height="39" fill="#b07422"/>
<rect x="3747" y="1853" width="1" height="47" fill="#1b911b"/>
<rect x="3748" y="1862" width="1" height="38" fill="#b07422"/>
<rect x="3749" y="1860" width="1" height="40" fill="#b07422"/>
<rect x="3750" y="1855" width="1" height="45" fill="#1b911b"/>
<rect x="3751" y="1861" width="1" height="39" fill="#1b911b"/>
<rect x="3752" y="1847" width="1" height="53" fill="#b07422"/>
<rect x="3753" y="1855" width="1" height="45" fill="#b07422"/>
<rect x="3754" y="1855" width="1" height="45" fill="#b07422"/>
<rect x="3755" y="1836" width="1" height="64" fill="#b07422"/>
<rect x="3756" y="1844" width="1" height="56" fill="#1b911b"/>
<rect x="3757" y="1835" width="1" height="65" fill="#b07422"/>
<rect x="3758" y="1836" width="1" height="64" fill="#b07422"/>
<rect x="3759" y="1832" width="1" height="68" fill="#b07422"/>
<rect x="3760" y="1836" width="1" height="64" fill="#b07422"/>
<rect x="3761" y="1781" width="1" height="119" fill="#b07422"/>
<rect x="3762" y="1781" width="1" height="119" fill="#b07422"/>
</g>
<rect x="3540.7" y="1813" width="2.2" height="87" fill="#1e8fb0"/>
<polyline points="3542.0,1443.0 3543.5,1400.0 3544.8,1335.3 3546.0,1312.2 3547.1,1287.3 3549.2,1301.6 3550.6,1258.9 3551.9,1191.3 3552.8,1189.6 3554.2,1223.3 3555.4,1193.1 3556.3,1251.8 3559.0,1264.2 3560.8,1294.4 3561.7,1317.6 3563.4,1305.1 3565.2,1317.6 3566.6,1351.3 3567.9,1366.4 3569.7,1362.0 3570.6,1347.8 3571.4,1301.6 3573.2,1298.0 3574.5,1333.6 3576.2,1305.1 3577.7,1312.2 3579.4,1301.6 3581.6,1274.9 3582.5,1260.7 3583.9,1283.8 3585.7,1308.7 3586.9,1319.3 3588.7,1315.8 3590.1,1301.6 3591.9,1310.4 3593.7,1319.3 3595.4,1299.8 3597.2,1298.0 3599.4,1321.1 3601.1,1301.6 3602.6,1322.9 3604.3,1337.1 3606.1,1351.3 3607.9,1358.4 3609.7,1361.1 3611.4,1338.9 3613.2,1329.1 3615.0,1337.1 3616.8,1330.0 3618.6,1346.0 3621.2,1354.9 3623.0,1340.7 3624.8,1324.7 3626.6,1321.1 3627.4,1333.6 3629.2,1319.3 3631.0,1292.7 3633.1,1303.3 3634.6,1298.0 3636.3,1292.7 3638.1,1305.1 3639.9,1322.9 3641.7,1337.1 3643.4,1321.1 3645.2,1321.1 3647.0,1335.3 3648.8,1339.8 3651.4,1336.2 3652.7,1328.2 3654.1,1326.4 3655.9,1330.0 3656.8,1351.3 3658.6,1378.9 3660.3,1367.3 3662.1,1370.9 3664.2,1383.3 3665.7,1370.9 3667.4,1362.0 3669.2,1346.0 3671.0,1331.8 3672.8,1328.2 3674.6,1317.6 3675.8,1307.8 3677.2,1321.1 3679.4,1310.4 3681.1,1294.4 3682.2,1278.4 3684.0,1274.9 3685.2,1242.9 3686.5,1244.7 3687.9,1253.6 3689.7,1276.7 3691.4,1292.7 3693.6,1276.7 3695.9,1268.7 3697.1,1281.1 3699.4,1277.6 3701.2,1274.9 3703.0,1262.4 3703.9,1248.2 3705.7,1258.0 3707.4,1251.8 3708.3,1258.9 3710.1,1248.2 3712.8,1253.6 3714.6,1248.2 3716.3,1237.6 3717.6,1221.6 3719.9,1226.0 3720.8,1241.1 3722.6,1248.2 3724.0,1265.1 3725.2,1246.4 3727.0,1253.6 3728.8,1258.9 3730.6,1266.0 3732.3,1258.0 3734.1,1260.7 3735.9,1255.3 3736.8,1245.6 3738.6,1253.6 3740.3,1257.1 3742.1,1250.9 3743.9,1258.9 3744.8,1253.6 3746.6,1283.8 3748.3,1298.0 3750.1,1294.4 3751.0,1288.2 3753.7,1285.6 3756.3,1281.1 3758.1,1273.1 3759.9,1261.6 3761.7,1256.2 3763.1,1253.6" fill="none" stroke="#1a8090" stroke-width="3.1" stroke-linejoin="round" stroke-linecap="round" shape-rendering="crispEdges"/>
<rect x="3480.7" y="1875.4" width="58" height="22.4" fill="#fff" stroke="#8a8a8a" stroke-width="1.5"/>
<text x="3537.5" y="1894.5" font-size="19.5" fill="#1a8a9c" text-anchor="end">X1000</text>
<line x1="3463" y1="1901" x2="3840" y2="1901" stroke="#000" stroke-width="2.6"/>
<line x1="3464.5" y1="1900" x2="3464.5" y2="1929" stroke="#5a5a5a" stroke-width="3"/>
<rect x="3466" y="1903.2" width="56.0" height="25" fill="#000" stroke="#7a7a7a" stroke-width="1.5"/>
<text x="3494.0" y="1923.0" font-size="19.5" fill="#fff" text-anchor="middle">分时</text>
<rect x="3524.7" y="1903.2" width="56.3" height="25" fill="#fff" stroke="#7a7a7a" stroke-width="1.5"/>
<text x="3552.8" y="1923.0" font-size="19.5" fill="#111" text-anchor="middle">筹码</text>
<rect x="3583.5" y="1903.2" width="57.3" height="25" fill="#fff" stroke="#7a7a7a" stroke-width="1.5"/>
<text x="3612.2" y="1923.0" font-size="19.5" fill="#111" text-anchor="middle">火焰</text>
</svg></body></html>
